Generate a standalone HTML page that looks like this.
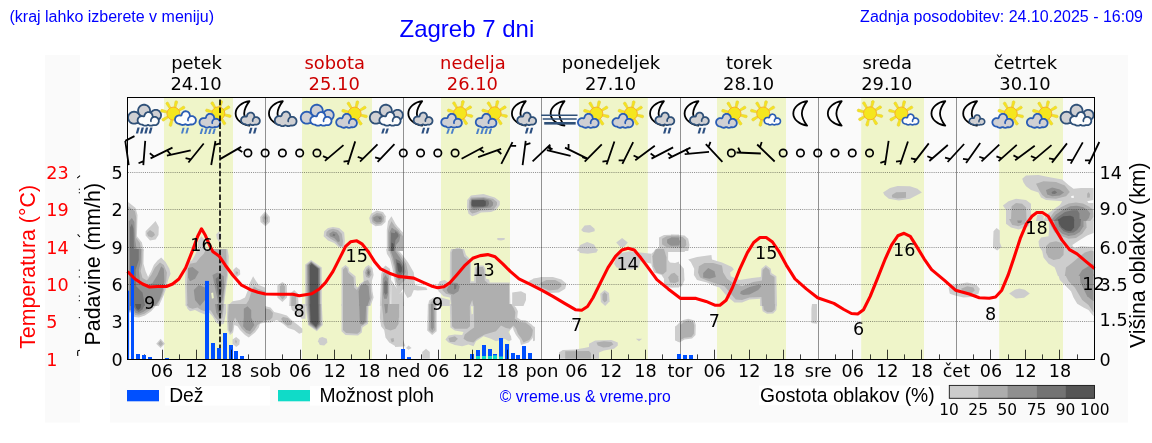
<!DOCTYPE html>
<html lang="sl"><head><meta charset="utf-8"><title>Zagreb 7 dni</title>
<style>
html,body{margin:0;padding:0;background:#fff;}
body{width:1152px;height:443px;overflow:hidden;font-family:"Liberation Sans",Arial,sans-serif;}
svg{display:block;position:absolute;left:0;top:0;}
text{white-space:pre;}
</style></head><body>
<svg width="1152" height="443" viewBox="0 0 1152 443">
<rect x="45" y="55" width="35" height="367.5" fill="#fafafa"/>
<rect x="110" y="55" width="1018" height="367.5" fill="#fafafa"/>
<rect x="164" y="97.5" width="69.0" height="262.0" fill="#eff5c9"/>
<rect x="302" y="97.5" width="70.0" height="262.0" fill="#eff5c9"/>
<rect x="441" y="97.5" width="69.0" height="262.0" fill="#eff5c9"/>
<rect x="579" y="97.5" width="68.8" height="262.0" fill="#eff5c9"/>
<rect x="717" y="97.5" width="69.0" height="262.0" fill="#eff5c9"/>
<rect x="861.2" y="97.5" width="62.8" height="262.0" fill="#eff5c9"/>
<rect x="999.2" y="97.5" width="63.8" height="262.0" fill="#eff5c9"/>
<clipPath id="cp"><rect x="127.5" y="166" width="967.0" height="193.5"/></clipPath>
<g clip-path="url(#cp)">
<path d="M128.1,201.9L135.6,208.1L137.5,215.0L136.9,236.2L141.9,242.5L143.8,251.0L128.1,251.0Z" fill="#cdcdcd"/>
<path d="M155.6,221.0L158.8,226.9L158.5,235.0L155.6,239.4L150.0,240.6L145.6,235.6L145.6,231.2L150.6,226.2Z" fill="#cdcdcd"/>
<path d="M201.2,236.2L205.0,240.0L206.2,251.0L197.5,251.0L198.1,241.2Z" fill="#cdcdcd"/>
<path d="M218.8,231.6L221.2,233.8L221.2,238.1L219.4,241.9L216.9,238.8L216.2,234.4Z" fill="#cdcdcd"/>
<path d="M128.1,249.0L143.8,249.0L143.5,263.8L145.6,271.2L148.1,276.9L151.2,271.2L153.8,265.0L157.5,260.6L161.2,257.5L165.6,261.9L169.4,268.8L170.6,273.8L168.1,280.0L166.5,287.5L163.8,295.0L158.8,306.0L128.1,306.0Z" fill="#cdcdcd"/>
<path d="M197.5,249.0L195.0,255.0L191.9,260.6L187.5,262.5L185.6,268.8L185.0,281.2L185.6,306.0L223.8,306.0L226.2,287.5L228.1,275.0L228.8,256.2L227.5,249.0Z" fill="#cdcdcd"/>
<path d="M236.2,266.9L240.0,270.0L240.2,274.4L236.9,276.9L233.8,274.4L233.1,270.0Z" fill="#cdcdcd"/>
<path d="M253.1,276.2L256.2,281.2L258.8,285.0L265.0,287.5L265.0,306.0L227.5,306.0L232.5,301.2L240.0,300.0L245.0,297.5L247.5,291.2L250.0,282.5Z" fill="#cdcdcd"/>
<path d="M128.1,304.0L157.5,304.0L151.2,311.2L145.0,315.6L138.8,317.5L134.4,316.9L132.5,312.5L128.1,312.5Z" fill="#cdcdcd"/>
<path d="M185.6,304.0L187.5,308.8L190.0,311.2L195.0,310.0L200.0,312.5L205.0,314.4L209.0,312.5L212.5,316.2L216.2,322.5L220.0,325.0L223.8,323.8L226.2,312.5L226.2,304.0Z" fill="#cdcdcd"/>
<path d="M227.5,304.0L226.9,317.5L227.5,330.0L230.0,335.0L233.1,332.5L234.4,325.0L237.5,326.2L240.0,330.0L245.0,335.0L248.8,337.5L255.0,332.5L258.8,327.5L260.0,323.8L265.0,322.5L265.0,304.0Z" fill="#cdcdcd"/>
<path d="M160.6,338.8L165.0,343.8L160.6,348.1L156.2,343.8Z" fill="#cdcdcd"/>
<path d="M232.5,339.4L236.2,336.9L239.8,340.0L239.4,344.4L236.2,346.9L232.5,343.8Z" fill="#cdcdcd"/>
<path d="M265.2,211.2L269.9,216.9L269.9,221.9L265.5,226.2L260.5,221.9L260.2,216.9Z" fill="#cdcdcd"/>
<path d="M333.0,226.9L339.2,228.1L344.2,232.5L344.9,241.2L344.2,247.5L339.2,247.5L334.2,243.1L328.0,240.6L323.6,236.2L324.2,231.2L328.0,228.1Z" fill="#cdcdcd"/>
<path d="M376.8,210.6L383.0,211.9L385.8,216.2L385.5,221.9L381.8,225.6L375.5,226.2L370.5,223.1L369.2,218.1L371.1,213.8Z" fill="#cdcdcd"/>
<path d="M391.5,216.2L395.5,223.8L399.2,228.8L403.0,232.5L403.0,251.0L386.8,251.0L386.8,230.0L388.0,221.2Z" fill="#cdcdcd"/>
<path d="M257.0,286.2L261.1,290.0L263.0,300.0L263.0,306.0L257.0,306.0Z" fill="#cdcdcd"/>
<path d="M282.4,281.9L286.8,285.0L287.0,297.5L282.4,301.9L277.4,297.5L277.4,285.6Z" fill="#cdcdcd"/>
<path d="M294.2,290.0L298.0,293.8L298.6,306.0L289.2,306.0L289.9,293.8Z" fill="#cdcdcd"/>
<path d="M311.1,260.0L321.8,267.5L321.8,306.0L305.2,306.0L305.2,264.4Z" fill="#cdcdcd"/>
<path d="M345.5,265.0L348.6,267.5L349.2,271.2L355.5,276.2L356.1,286.2L358.0,287.5L359.9,283.8L363.6,281.2L363.0,271.2L365.5,266.9L368.6,265.0L372.4,268.1L373.6,275.0L371.8,281.2L372.4,291.2L373.6,297.5L370.5,306.0L341.5,306.0L341.5,268.1Z" fill="#cdcdcd"/>
<path d="M385.5,265.6L389.9,268.8L391.1,275.0L390.5,306.0L379.9,306.0L381.1,275.0L382.4,268.8Z" fill="#cdcdcd"/>
<path d="M257.0,304.0L270.5,307.5L274.2,311.9L281.1,313.8L286.8,315.6L293.0,321.2L298.0,325.0L302.4,328.8L302.4,332.5L299.2,333.8L294.2,330.0L288.0,328.1L283.0,323.8L276.8,320.0L270.5,322.5L263.0,322.5L257.0,323.8Z" fill="#cdcdcd"/>
<path d="M290.5,304.0L305.5,304.0L305.5,318.8L301.8,318.8L295.5,312.5L291.8,310.0Z" fill="#cdcdcd"/>
<path d="M305.2,304.0L321.8,304.0L322.8,325.0L316.8,331.2L308.0,325.0Z" fill="#cdcdcd"/>
<path d="M322.4,336.9L326.8,338.8L327.4,342.5L324.2,345.6L319.9,345.0L318.0,341.2L319.2,338.1Z" fill="#cdcdcd"/>
<path d="M341.5,304.0L368.6,304.0L368.0,323.8L362.4,327.5L361.8,332.5L358.0,335.6L345.5,335.0L341.5,331.2Z" fill="#cdcdcd"/>
<path d="M386.2,249.0L397.5,249.0L402.5,255.0L408.1,262.5L413.8,272.5L415.0,285.0L420.0,286.2L426.2,287.5L427.5,290.0L417.5,290.6L413.8,290.0L411.2,296.2L407.5,298.1L405.0,293.8L403.1,288.8L400.0,293.8L397.5,291.2L395.0,282.5L392.5,268.8L390.0,258.8L386.9,253.8Z" fill="#cdcdcd"/>
<path d="M391.2,280.0L396.2,287.5L400.0,293.8L402.5,291.2L403.8,306.0L391.2,306.0Z" fill="#cdcdcd"/>
<path d="M380.5,304.0L403.0,304.0L403.0,346.2L395.5,346.2L389.2,342.5L385.5,337.5L384.2,330.0L381.1,326.2L379.9,317.5Z" fill="#cdcdcd"/>
<path d="M471.0,195.6L483.5,194.0L494.8,197.5L499.8,201.2L499.8,205.0L496.0,210.0L491.0,211.9L481.0,212.5L476.0,215.0L472.2,216.2L468.5,213.8L467.0,207.5L467.2,200.0Z" fill="#cdcdcd"/>
<path d="M497.2,238.1L504.8,238.1L504.5,239.8L501.0,240.6L497.5,240.0Z" fill="#cdcdcd"/>
<path d="M395.0,225.0L399.8,228.8L402.0,233.8L401.0,238.8L398.5,241.9L397.9,251.0L395.0,251.0Z" fill="#cdcdcd"/>
<path d="M453.5,251.0L456.0,248.1L460.4,248.1L462.9,251.0Z" fill="#cdcdcd"/>
<path d="M451.0,249.0L464.1,249.0L466.0,255.0L471.0,260.0L471.0,281.2L474.1,281.2L474.8,267.5L477.2,265.6L483.5,265.6L485.4,268.8L486.0,278.8L489.1,279.4L489.8,282.5L509.8,282.5L510.4,306.0L451.0,306.0L449.8,297.5L443.5,296.2L438.5,291.2L437.2,286.2L439.8,281.2L444.8,280.0L449.8,283.8L450.0,252.5Z" fill="#cdcdcd"/>
<path d="M512.2,292.5L521.0,291.2L526.0,293.8L526.0,300.0L523.5,306.0L512.2,306.0Z" fill="#cdcdcd"/>
<path d="M528.5,281.2L533.5,278.8L541.0,278.1L541.0,286.2L533.5,286.2L529.8,284.4Z" fill="#cdcdcd"/>
<path d="M427.9,306.0L429.1,300.6L433.5,297.5L441.0,297.5L449.8,300.0L449.8,306.0Z" fill="#cdcdcd"/>
<path d="M395.0,304.0L401.6,304.0L401.6,312.5L399.8,321.2L397.9,326.2L399.8,332.5L403.5,341.2L405.4,346.2L395.0,346.9Z" fill="#cdcdcd"/>
<path d="M406.0,348.1L408.5,345.6L411.6,348.1L408.5,349.8Z" fill="#cdcdcd"/>
<path d="M422.2,351.9L426.0,348.8L429.8,351.9L429.8,358.8L422.2,358.8Z" fill="#cdcdcd"/>
<path d="M427.9,304.0L436.6,304.0L436.6,331.2L432.2,335.0L427.2,330.6Z" fill="#cdcdcd"/>
<path d="M449.8,304.0L512.2,304.0L516.0,307.5L517.9,311.2L517.2,317.5L521.0,320.0L526.0,320.6L532.2,325.0L534.8,328.8L534.1,335.0L532.2,338.8L528.5,342.5L521.0,345.0L519.8,340.0L516.0,335.0L513.5,330.0L512.9,326.9L508.5,331.9L511.0,336.2L511.6,340.0L508.5,341.2L504.8,338.8L496.0,341.2L491.0,338.8L483.5,336.2L476.0,341.2L473.5,346.2L468.5,344.4L462.2,346.2L454.8,345.0L448.5,342.5L445.4,339.4L448.5,335.6L454.8,334.4L462.2,335.0L463.5,331.9L454.8,330.6L450.4,327.5Z" fill="#cdcdcd"/>
<path d="M584.6,225.6L590.2,225.0L594.6,228.8L594.6,231.2L589.0,232.8L583.4,231.9L581.2,230.0Z" fill="#cdcdcd"/>
<path d="M622.1,238.1L627.8,242.5L624.0,246.9L620.2,246.9L616.2,242.5Z" fill="#cdcdcd"/>
<path d="M577.1,251.0L580.2,245.0L587.1,241.9L594.0,244.4L597.8,251.0Z" fill="#cdcdcd"/>
<path d="M659.0,237.5L664.0,235.0L679.0,234.4L679.0,251.0L654.0,251.0L659.0,246.9Z" fill="#cdcdcd"/>
<path d="M577.1,249.0L597.8,249.0L596.5,252.5L587.8,253.8L580.2,253.1Z" fill="#cdcdcd"/>
<path d="M533.0,278.8L541.5,276.9L552.8,276.9L561.5,279.4L566.5,283.8L565.2,288.8L559.0,292.5L549.0,293.1L539.0,290.0L533.0,286.9Z" fill="#cdcdcd"/>
<path d="M614.0,263.8L616.5,257.5L621.5,253.1L629.0,251.2L640.2,252.5L651.5,253.8L651.5,263.8L646.5,262.5L640.2,261.2L639.0,267.5L631.5,269.4L621.5,268.8L616.5,267.5Z" fill="#cdcdcd"/>
<path d="M651.5,253.8L656.5,249.0L679.0,249.0L679.0,287.5L664.0,287.5L664.0,278.8L661.5,275.0L654.0,272.5L651.5,265.0Z" fill="#cdcdcd"/>
<path d="M604.6,290.0L609.0,293.1L609.6,301.2L605.2,306.0L600.9,301.9L600.2,293.8Z" fill="#cdcdcd"/>
<path d="M589.0,343.8L595.2,340.6L611.5,340.0L617.8,342.5L617.8,345.6L614.0,348.8L604.0,350.6L599.0,352.5L599.0,358.8L559.0,358.8L559.0,352.5L562.8,350.0L575.2,349.4L584.0,348.1L589.0,346.9Z" fill="#cdcdcd"/>
<path d="M635.9,338.8L642.1,338.8L639.0,341.2Z" fill="#cdcdcd"/>
<path d="M675.2,326.2L679.0,325.0L679.0,341.9L675.2,340.6Z" fill="#cdcdcd"/>
<path d="M533.0,326.2L535.0,326.9L535.0,340.6L533.0,341.2Z" fill="#cdcdcd"/>
<path d="M671.0,234.4L684.5,235.6L688.2,238.8L689.5,245.0L688.2,251.0L671.0,251.0Z" fill="#cdcdcd"/>
<path d="M671.0,249.0L686.4,249.0L684.5,251.9L671.0,251.9Z" fill="#cdcdcd"/>
<path d="M671.0,261.9L679.5,263.8L683.9,268.8L684.5,280.0L682.0,286.2L671.0,287.5Z" fill="#cdcdcd"/>
<path d="M688.2,259.4L697.0,256.9L711.4,255.0L712.0,259.4L722.0,262.5L732.0,266.9L733.9,269.4L730.1,272.5L730.8,276.2L739.5,280.0L752.0,278.1L760.8,276.9L761.4,268.8L765.8,265.0L770.8,268.8L771.4,273.1L776.4,276.2L777.0,306.0L760.1,306.0L760.1,298.8L749.5,299.4L742.0,302.5L734.5,302.5L727.0,296.2L719.5,287.5L713.2,285.6L707.0,282.5L697.0,280.0L693.9,275.0L694.2,268.8L690.8,261.9Z" fill="#cdcdcd"/>
<path d="M683.2,320.0L688.2,318.8L694.5,320.6L695.8,325.0L695.5,335.0L692.0,338.5L684.5,339.4L679.5,342.5L675.1,340.0L675.1,326.9L679.5,322.5Z" fill="#cdcdcd"/>
<path d="M761.4,304.0L776.8,304.0L776.4,310.0L773.2,313.5L767.0,313.8L762.6,311.2Z" fill="#cdcdcd"/>
<path d="M812.0,304.0L817.0,304.0L817.0,323.8L811.4,323.1L811.4,308.8Z" fill="#cdcdcd"/>
<path d="M883.1,192.5L890.0,188.1L897.5,186.0L910.0,186.2L917.5,188.8L921.9,192.5L916.2,195.6L910.0,198.8L898.8,200.6L888.8,198.8L884.4,195.0Z" fill="#cdcdcd"/>
<path d="M1022.2,178.8L1026.0,175.6L1038.5,175.0L1051.0,177.5L1062.2,179.4L1068.5,185.0L1073.5,188.8L1081.0,188.1L1093.5,188.1L1093.5,221.0L1043.5,221.0L1046.0,215.0L1051.0,211.2L1059.8,205.0L1062.2,201.2L1046.0,200.0L1041.0,197.5L1038.5,192.5L1031.0,190.0L1026.0,186.2L1023.5,182.5Z" fill="#cdcdcd"/>
<path d="M1002.9,205.6L1008.5,201.2L1016.0,198.8L1026.0,200.0L1031.0,203.8L1031.0,221.0L1006.0,221.0L1006.0,210.0Z" fill="#cdcdcd"/>
<path d="M1036.0,221.0L1037.2,215.0L1041.0,213.8L1043.5,216.2L1043.5,221.0Z" fill="#cdcdcd"/>
<path d="M1006.0,219.0L1031.0,219.0L1028.5,226.2L1018.5,229.4L1011.0,227.5L1006.0,223.8Z" fill="#cdcdcd"/>
<path d="M996.6,228.1L999.8,230.6L999.8,242.5L1001.6,246.9L997.2,250.6L992.9,247.5L993.5,231.2Z" fill="#cdcdcd"/>
<path d="M1048.5,219.0L1093.5,219.0L1093.5,233.1L1087.2,235.6L1079.1,240.6L1072.2,245.0L1074.1,248.1L1081.0,246.2L1093.5,246.9L1093.5,276.0L1057.9,276.0L1054.8,267.5L1048.5,263.8L1043.5,257.5L1042.2,251.2L1039.1,246.2L1038.5,241.2L1041.0,237.5L1048.5,236.2L1049.1,230.0Z" fill="#cdcdcd"/>
<path d="M948.5,287.5L955.0,284.4L967.2,282.5L976.0,284.4L979.8,288.8L978.5,293.8L971.0,296.9L963.5,297.5L955.0,295.6L949.8,293.8Z" fill="#cdcdcd"/>
<path d="M1009.1,293.5L1014.8,289.8L1019.1,288.5L1024.8,289.8L1029.8,293.5L1024.1,297.8L1016.0,298.5Z" fill="#cdcdcd"/>
<path d="M1057.9,274.0L1093.5,274.0L1093.5,316.2L1088.5,310.0L1083.5,307.5L1077.2,303.8L1073.5,297.5L1071.0,291.2L1066.0,286.2L1059.8,280.0Z" fill="#cdcdcd"/>
<path d="M128.1,206.2L135.0,211.2L136.2,217.5L136.0,237.5L140.0,243.1L141.2,251.0L128.1,251.0Z" fill="#afafaf"/>
<path d="M150.0,230.0L153.8,232.5L155.0,235.0L151.9,237.5L148.1,236.2L146.9,233.1Z" fill="#afafaf"/>
<path d="M128.1,249.0L142.5,249.0L142.2,263.8L140.6,271.2L142.5,278.1L146.9,280.6L151.2,275.0L155.0,267.5L160.0,262.5L163.8,265.0L166.9,272.5L166.2,281.2L164.4,288.8L161.9,296.2L156.9,306.0L128.1,306.0Z" fill="#afafaf"/>
<path d="M206.2,249.0L203.8,253.8L200.0,257.5L196.2,262.5L190.0,263.8L187.5,270.0L186.9,287.5L187.5,306.0L223.1,306.0L225.0,287.5L226.9,275.0L226.2,249.0Z" fill="#afafaf"/>
<path d="M235.6,271.2L238.1,271.9L237.5,274.4L235.6,274.4Z" fill="#afafaf"/>
<path d="M253.8,286.2L257.5,288.8L265.0,291.2L265.0,306.0L245.0,306.0L248.8,300.0L251.2,292.5Z" fill="#afafaf"/>
<path d="M128.1,304.0L155.6,304.0L150.0,310.0L144.4,313.8L138.8,315.6L135.0,315.0L133.1,311.2L128.1,311.2Z" fill="#afafaf"/>
<path d="M186.9,304.0L188.8,307.5L192.5,308.8L197.5,307.5L201.2,310.0L205.0,311.2L210.0,310.0L211.2,311.2L215.0,317.5L218.8,321.2L222.5,317.5L224.4,304.0Z" fill="#afafaf"/>
<path d="M228.8,304.0L228.1,317.5L228.8,330.0L230.6,333.1L232.5,330.0L233.1,322.5L235.0,317.5L238.8,323.8L241.9,328.8L246.2,333.1L250.0,334.4L254.4,330.0L257.5,325.0L265.0,320.0L265.0,304.0Z" fill="#afafaf"/>
<path d="M160.6,340.6L163.1,343.8L160.6,346.2L158.1,343.8Z" fill="#afafaf"/>
<path d="M235.6,339.4L236.9,341.2L236.2,343.8L235.2,341.9Z" fill="#afafaf"/>
<path d="M265.2,213.1L268.0,217.5L267.8,221.2L265.5,224.4L262.8,221.2L262.4,217.5Z" fill="#afafaf"/>
<path d="M333.0,228.8L338.0,230.0L341.8,233.8L343.0,241.2L342.4,246.2L339.9,246.2L336.1,241.9L330.5,238.8L326.1,235.6L326.5,231.9L329.2,229.8Z" fill="#afafaf"/>
<path d="M376.8,213.1L381.8,213.8L384.0,216.9L383.6,221.2L380.5,224.0L376.1,224.4L372.4,221.9L371.5,218.1L373.0,215.2Z" fill="#afafaf"/>
<path d="M391.5,221.2L394.9,226.2L398.6,230.6L403.0,236.2L403.0,251.0L388.0,251.0L388.0,231.2L389.2,226.2Z" fill="#afafaf"/>
<path d="M257.0,290.0L260.5,293.8L261.1,306.0L257.0,306.0Z" fill="#afafaf"/>
<path d="M282.4,284.4L284.9,286.2L284.9,296.9L282.4,299.4L279.9,296.2L279.9,286.2Z" fill="#afafaf"/>
<path d="M294.2,292.5L296.1,295.0L296.1,306.0L291.1,306.0L291.5,295.6Z" fill="#afafaf"/>
<path d="M311.1,261.2L320.5,268.1L320.5,306.0L306.5,306.0L306.5,265.0Z" fill="#afafaf"/>
<path d="M345.5,266.9L347.4,268.8L348.0,272.5L353.6,277.5L354.2,287.5L356.8,290.0L359.2,286.2L363.0,283.1L364.2,281.2L368.0,280.0L370.5,285.0L371.1,292.5L371.8,297.5L369.2,306.0L343.0,306.0L343.0,269.4Z" fill="#afafaf"/>
<path d="M368.6,266.9L371.1,270.0L371.5,275.0L369.2,278.1L366.1,276.9L364.9,272.5L366.5,268.8Z" fill="#afafaf"/>
<path d="M385.5,271.2L388.6,273.8L389.2,281.2L389.2,306.0L381.8,306.0L382.4,281.2L383.0,273.8Z" fill="#afafaf"/>
<path d="M257.0,306.2L269.9,309.4L273.0,313.1L272.4,317.5L269.9,320.0L263.0,320.6L257.0,321.2Z" fill="#afafaf"/>
<path d="M283.0,316.9L288.0,318.1L292.4,322.5L291.1,325.0L287.4,325.6L283.0,321.9L281.1,318.8Z" fill="#afafaf"/>
<path d="M306.5,304.0L321.1,304.0L321.5,325.0L316.8,330.0L308.6,324.4Z" fill="#afafaf"/>
<path d="M343.0,304.0L367.4,304.0L366.8,322.5L361.1,326.2L360.5,331.2L357.4,333.8L346.1,333.1L343.0,330.0Z" fill="#afafaf"/>
<path d="M388.8,249.0L395.6,249.0L401.2,256.2L406.2,263.8L408.1,272.5L407.5,277.5L402.5,282.5L398.8,286.2L396.2,281.2L394.4,268.8L391.9,258.8Z" fill="#afafaf"/>
<path d="M381.8,304.0L399.2,304.0L398.6,323.8L395.5,328.8L390.5,330.6L385.5,328.8L383.6,323.8L383.0,315.0Z" fill="#afafaf"/>
<path d="M390.5,338.8L393.6,338.1L394.2,341.2L391.8,342.5Z" fill="#afafaf"/>
<path d="M471.0,197.5L483.5,196.9L492.9,198.8L497.0,201.9L497.0,205.0L494.1,208.8L489.8,210.0L481.0,210.6L476.0,212.5L472.2,213.5L469.8,211.2L468.8,206.9L469.1,200.6Z" fill="#afafaf"/>
<path d="M395.0,227.5L399.1,230.6L400.4,234.4L399.5,238.1L395.0,240.6Z" fill="#afafaf"/>
<path d="M452.9,249.0L462.2,249.0L464.1,256.2L469.8,261.2L470.0,283.1L476.0,283.1L476.0,268.8L478.5,266.9L482.9,266.9L484.1,270.0L484.8,280.6L488.5,283.8L509.1,283.8L509.1,306.0L473.5,306.0L472.2,300.0L469.8,306.0L451.6,306.0L451.0,295.0L446.0,293.8L442.2,290.0L444.8,286.2L449.8,286.2L451.6,283.8L451.6,252.5Z" fill="#afafaf"/>
<path d="M429.8,306.0L431.0,301.9L433.5,300.0L436.0,301.2L436.0,306.0Z" fill="#afafaf"/>
<path d="M395.0,307.5L399.1,310.0L399.1,317.5L395.0,318.8Z" fill="#afafaf"/>
<path d="M429.1,304.0L435.4,304.0L435.4,330.0L432.2,333.1L428.8,330.0Z" fill="#afafaf"/>
<path d="M451.6,304.0L469.8,304.0L470.0,326.2L467.2,328.8L454.8,328.8L452.0,326.2Z" fill="#afafaf"/>
<path d="M474.1,304.0L511.0,304.0L514.1,308.8L515.4,312.5L514.8,318.8L519.8,321.9L525.4,322.5L530.4,326.2L532.9,330.0L532.2,335.0L529.8,339.4L523.5,342.5L521.6,338.8L517.9,333.8L516.0,328.8L513.5,325.6L509.8,328.8L506.0,328.1L501.0,325.6L496.0,331.2L484.8,334.4L477.2,338.8L473.5,342.5L467.2,341.2L463.5,338.8L464.8,334.4L469.8,330.6L474.1,327.5Z" fill="#afafaf"/>
<path d="M448.5,338.1L454.8,336.2L457.9,338.8L454.8,341.9L449.8,341.9Z" fill="#afafaf"/>
<path d="M662.1,238.8L666.5,236.2L679.0,235.6L679.0,247.5L666.5,246.9L662.1,244.4Z" fill="#afafaf"/>
<path d="M540.2,283.1L546.5,280.0L555.2,280.0L560.9,283.1L561.5,286.2L557.8,289.4L549.0,290.6L542.8,288.1Z" fill="#afafaf"/>
<path d="M655.9,249.0L664.0,249.0L666.5,257.5L666.5,271.2L662.8,274.4L656.5,272.5L653.4,266.2L652.5,256.2Z" fill="#afafaf"/>
<path d="M604.6,291.9L607.1,294.4L607.1,300.6L604.6,302.5L602.5,300.0L602.5,294.4Z" fill="#afafaf"/>
<path d="M596.5,342.5L604.0,341.2L611.5,341.9L613.4,344.4L609.0,346.9L603.4,347.5L597.8,345.6Z" fill="#afafaf"/>
<path d="M565.2,351.2L589.0,351.0L590.9,353.1L590.9,358.8L565.2,358.8Z" fill="#afafaf"/>
<path d="M671.0,235.6L682.6,236.9L685.8,240.0L686.4,245.0L684.5,247.5L671.0,247.5Z" fill="#afafaf"/>
<path d="M698.9,266.2L704.5,263.1L713.2,263.1L722.0,265.6L723.2,272.5L727.0,278.8L734.5,283.8L742.0,286.2L753.2,281.9L762.0,280.6L762.6,270.0L765.8,266.9L769.5,270.0L770.1,274.4L774.5,276.9L774.8,306.0L762.0,306.0L761.4,296.9L749.5,297.5L742.0,300.0L735.8,299.4L730.8,293.8L724.5,286.2L714.5,283.1L707.0,280.6L700.1,277.5L698.0,272.5Z" fill="#afafaf"/>
<path d="M683.9,321.9L688.2,320.6L693.2,321.9L694.2,325.6L693.9,333.8L691.4,336.9L684.5,337.8L680.5,340.0L680.5,325.0Z" fill="#afafaf"/>
<path d="M763.0,304.0L775.1,304.0L774.8,309.4L772.0,311.9L767.6,312.2L763.9,310.0Z" fill="#afafaf"/>
<path d="M668.1,277.5L671.2,273.8L674.4,272.8L678.1,276.2L678.8,281.2L675.0,283.1L670.0,282.5Z" fill="#afafaf"/>
<path d="M891.9,195.0L896.2,192.2L906.0,191.9L906.0,197.8L897.5,198.5L892.2,197.5Z" fill="#afafaf"/>
<path d="M1036.0,183.8L1043.5,181.2L1056.0,181.9L1064.8,185.6L1069.8,191.9L1066.0,196.2L1056.0,198.8L1046.0,198.1L1042.2,195.0L1039.1,190.0Z" fill="#afafaf"/>
<path d="M1087.2,193.8L1088.8,191.9L1090.0,194.4L1089.8,197.5L1087.2,197.8Z" fill="#afafaf"/>
<path d="M1011.6,206.2L1016.0,203.1L1022.2,203.8L1026.0,207.5L1026.6,221.0L1011.0,221.0Z" fill="#afafaf"/>
<path d="M1009.1,219.0L1026.0,219.0L1024.8,223.8L1018.5,226.2L1012.2,225.0Z" fill="#afafaf"/>
<path d="M1049.1,219.0L1086.0,219.0L1086.6,227.5L1082.2,233.8L1076.0,238.1L1068.5,238.8L1062.2,236.2L1054.8,232.5L1051.0,226.2Z" fill="#afafaf"/>
<path d="M1046.0,246.2L1049.8,242.5L1056.0,241.2L1062.2,243.1L1063.8,247.5L1063.5,255.0L1059.8,258.8L1053.5,260.0L1048.5,257.5L1046.0,252.5Z" fill="#afafaf"/>
<path d="M1064.8,276.0L1066.0,267.5L1071.0,263.8L1078.5,257.5L1084.8,252.5L1091.0,250.6L1093.5,251.2L1093.5,276.0Z" fill="#afafaf"/>
<path d="M961.0,288.8L967.2,286.2L973.5,287.5L974.8,290.6L971.0,293.8L963.5,293.1Z" fill="#afafaf"/>
<path d="M1064.8,274.0L1093.5,274.0L1093.5,312.5L1088.5,305.0L1082.2,300.0L1078.5,293.8L1074.8,287.5L1068.5,281.2Z" fill="#afafaf"/>
<path d="M1047.8,221.1L1054.2,211.7L1061.4,207.1L1068.6,203.5L1075.8,202.6L1083.0,203.5L1088.4,206.2L1093.0,209.4L1093.4,217.1L1090.3,221.1Z" fill="#afafaf"/>
<path d="M128.8,221.2L131.9,218.1L134.4,221.9L135.0,238.8L136.9,251.0L128.8,251.0Z" fill="#919191"/>
<path d="M128.8,249.0L141.2,249.0L140.6,262.5L138.8,270.0L140.0,281.2L145.0,286.2L152.5,283.1L157.5,275.0L161.2,266.2L163.8,268.8L164.4,281.2L162.5,291.2L159.4,300.0L155.0,306.0L128.8,306.0Z" fill="#919191"/>
<path d="M188.1,268.1L192.5,266.9L198.8,271.9L195.0,278.8L190.0,281.2L188.1,277.5Z" fill="#919191"/>
<path d="M193.8,290.0L198.8,285.0L205.0,287.5L205.0,300.0L200.0,306.0L195.0,300.0Z" fill="#919191"/>
<path d="M212.5,275.0L217.5,272.5L223.8,276.2L224.4,287.5L222.5,300.0L218.8,306.0L215.0,287.5Z" fill="#919191"/>
<path d="M128.8,304.0L153.1,304.0L148.1,308.8L143.1,311.9L138.8,313.8L135.6,313.1L133.8,310.0L128.8,310.0Z" fill="#919191"/>
<path d="M215.0,304.0L216.2,312.5L218.8,317.5L221.9,313.8L223.1,304.0Z" fill="#919191"/>
<path d="M243.8,308.8L247.5,306.2L251.2,310.0L251.2,317.5L254.4,325.0L250.0,331.2L246.2,330.0L243.1,326.2L243.8,317.5Z" fill="#919191"/>
<path d="M265.2,215.6L266.5,218.1L265.5,220.6L264.2,218.1Z" fill="#919191"/>
<path d="M333.0,231.2L336.8,232.5L339.2,236.2L339.9,241.2L338.0,241.9L334.2,238.1L329.9,236.2L329.2,233.8Z" fill="#919191"/>
<path d="M376.8,215.6L381.1,216.0L382.4,218.8L381.1,221.9L376.8,222.5L373.6,220.6L373.2,217.5Z" fill="#919191"/>
<path d="M391.8,227.5L396.8,231.2L400.5,235.0L399.2,241.2L396.1,245.0L395.5,251.0L389.2,251.0L389.5,232.5Z" fill="#919191"/>
<path d="M311.1,261.9L319.9,268.8L319.9,306.0L308.0,306.0L307.4,265.6Z" fill="#919191"/>
<path d="M360.5,285.6L365.5,283.8L368.6,286.2L369.2,293.8L369.9,298.8L367.4,306.0L359.2,306.0L358.6,291.2Z" fill="#919191"/>
<path d="M368.6,268.8L370.2,271.2L369.9,275.0L368.0,276.2L366.5,273.8L367.0,270.2Z" fill="#919191"/>
<path d="M385.5,275.0L388.0,278.8L388.2,293.8L386.8,298.8L384.2,298.8L383.0,293.8L383.2,278.8Z" fill="#919191"/>
<path d="M307.8,304.0L320.2,304.0L320.5,324.4L316.5,329.0L309.5,323.8Z" fill="#919191"/>
<path d="M359.2,304.0L366.1,304.0L365.5,321.2L363.0,324.4L359.9,323.8Z" fill="#919191"/>
<path d="M390.0,249.0L393.8,249.0L399.4,256.9L404.4,264.4L405.6,271.9L403.1,276.9L398.8,280.6L396.2,276.2L395.0,266.2L393.1,257.5Z" fill="#919191"/>
<path d="M384.2,304.0L388.0,304.0L387.4,312.5L385.5,313.8Z" fill="#919191"/>
<path d="M471.6,198.8L483.5,198.1L491.0,200.0L493.2,202.5L492.9,205.6L490.4,207.5L481.0,208.5L473.5,209.8L471.0,208.1L470.4,202.5Z" fill="#919191"/>
<path d="M395.0,229.4L398.2,231.9L399.1,234.8L397.9,237.5L395.0,238.8Z" fill="#919191"/>
<path d="M448.5,286.2L452.2,282.5L457.2,283.1L459.8,286.2L458.5,291.2L453.5,294.4L448.5,293.1L446.6,290.0Z" fill="#919191"/>
<path d="M431.0,304.0L433.5,304.0L433.8,327.5L432.2,330.6L430.8,327.5Z" fill="#919191"/>
<path d="M667.1,239.4L671.5,237.5L679.0,237.5L679.0,245.6L670.2,245.6L667.1,243.1Z" fill="#919191"/>
<path d="M671.0,237.5L678.2,238.1L680.1,241.2L679.5,245.0L671.0,245.6Z" fill="#919191"/>
<path d="M703.2,273.1L708.2,268.1L714.5,271.2L715.8,276.9L709.5,278.8L703.2,277.5Z" fill="#919191"/>
<path d="M740.8,291.2L749.5,286.9L759.5,284.4L761.4,286.2L758.2,290.0L749.5,294.4L743.2,295.0L740.1,293.8Z" fill="#919191"/>
<path d="M1046.0,190.0L1052.2,187.5L1059.8,189.4L1064.1,192.5L1059.8,195.6L1052.2,196.2L1047.2,194.4Z" fill="#919191"/>
<path d="M1017.2,220.6L1022.2,220.6L1021.0,223.1L1017.9,223.1Z" fill="#919191"/>
<path d="M1053.5,219.0L1083.5,219.0L1083.5,226.2L1079.8,231.9L1074.8,235.0L1068.5,236.0L1062.2,233.8L1056.6,228.8L1054.8,223.8Z" fill="#919191"/>
<path d="M1078.5,276.0L1082.2,270.0L1088.5,266.2L1093.5,263.8L1093.5,276.0Z" fill="#919191"/>
<path d="M1079.8,274.0L1093.5,274.0L1093.5,301.2L1087.2,296.2L1083.5,288.8L1080.4,282.5Z" fill="#919191"/>
<path d="M1050.5,221.1L1056.0,214.4L1063.2,209.4L1070.4,206.2L1076.7,205.8L1083.0,207.1L1087.5,209.9L1090.3,213.5L1088.9,218.0L1086.2,221.1Z" fill="#919191"/>
<path d="M130.0,227.5L131.9,223.8L133.5,228.8L134.0,251.0L130.0,251.0Z" fill="#757575"/>
<path d="M130.0,249.0L138.8,249.0L138.8,260.0L135.6,270.0L136.2,286.2L142.5,292.5L145.0,306.0L130.0,306.0Z" fill="#757575"/>
<path d="M215.6,278.8L218.8,276.2L221.9,280.0L221.9,290.0L219.4,300.0L217.5,291.2Z" fill="#757575"/>
<path d="M130.0,304.0L145.0,304.0L142.5,309.4L138.8,311.9L136.2,310.6L134.4,307.5Z" fill="#757575"/>
<path d="M216.9,304.0L218.1,311.2L220.0,312.5L221.0,304.0Z" fill="#757575"/>
<path d="M333.6,233.8L335.5,234.8L334.2,236.2L332.4,235.2Z" fill="#757575"/>
<path d="M378.0,217.2L381.1,217.8L379.9,219.4Z" fill="#757575"/>
<path d="M391.1,232.5L398.0,233.8L398.6,236.2L395.5,240.0L394.2,251.0L390.5,251.0Z" fill="#757575"/>
<path d="M311.1,262.5L319.2,268.8L319.2,306.0L309.2,306.0L308.6,265.0Z" fill="#757575"/>
<path d="M368.6,270.6L369.5,272.5L368.6,274.4L367.5,272.8Z" fill="#757575"/>
<path d="M385.8,280.0L387.4,282.5L387.4,292.5L385.8,295.0L384.2,292.5L384.2,282.5Z" fill="#757575"/>
<path d="M309.0,304.0L319.2,304.0L319.5,323.8L316.2,328.1L310.2,323.1Z" fill="#757575"/>
<path d="M395.6,258.8L400.0,261.2L403.1,266.2L403.8,271.2L401.2,275.0L398.1,276.9L396.5,272.5L396.0,263.8Z" fill="#757575"/>
<path d="M471.6,199.8L483.5,199.4L488.5,200.6L489.1,203.8L487.9,206.2L483.5,207.2L473.5,207.8L471.2,206.2L471.0,201.9Z" fill="#757575"/>
<path d="M395.0,231.2L397.5,233.1L397.2,236.2L395.0,236.9Z" fill="#757575"/>
<path d="M454.1,284.4L456.6,285.0L456.0,288.8L454.1,289.4Z" fill="#757575"/>
<path d="M1051.6,191.9L1054.8,190.6L1057.2,192.5L1054.8,194.0L1052.0,193.8Z" fill="#757575"/>
<path d="M1057.2,219.0L1081.0,219.0L1080.4,225.6L1077.2,230.0L1073.5,232.5L1068.5,233.1L1063.5,231.2L1059.1,226.2Z" fill="#757575"/>
<path d="M1053.7,221.1L1057.8,217.1L1065.0,212.1L1072.2,210.3L1077.6,210.3L1079.4,213.5L1079.6,221.1Z" fill="#757575"/>
<path d="M135.0,304.0L141.2,304.0L140.6,308.1L138.1,310.0L136.2,308.1Z" fill="#575757"/>
<path d="M391.5,242.5L393.6,243.8L393.6,251.0L391.1,251.0Z" fill="#575757"/>
<path d="M311.8,263.8L318.0,268.8L318.0,306.0L310.2,306.0L309.9,265.6Z" fill="#575757"/>
<path d="M309.9,304.0L318.2,304.0L318.5,322.5L316.0,326.9L310.8,321.9Z" fill="#575757"/>
<path d="M396.9,262.5L400.0,263.8L401.9,267.5L401.9,271.2L400.0,273.1L398.1,271.2Z" fill="#575757"/>
<path d="M472.0,200.2L483.5,200.0L485.8,201.2L485.8,205.6L483.5,206.5L472.9,206.5L471.6,205.0Z" fill="#575757"/>
<path d="M1058.5,219.0L1074.1,219.0L1074.1,227.5L1071.0,231.2L1066.0,230.6L1061.6,227.5L1059.1,223.8Z" fill="#575757"/>
<path d="M1057.8,221.1L1058.7,219.3L1063.2,216.2L1070.4,215.7L1073.6,217.1L1074.2,221.1Z" fill="#575757"/>
<path d="M211.2,293.1L213.1,292.5L213.8,298.1L211.9,298.8Z" fill="#eff5c9"/>
<path d="M471.0,306.2L472.9,306.2L472.9,313.8L471.6,314.4Z" fill="#eff5c9"/>
<path d="M668.1,251.9L680.0,251.9L680.0,261.2L675.0,263.1L670.0,262.5L668.1,260.0Z" fill="#fafafa"/>
<path d="M1071.0,196.2L1073.5,195.6L1074.1,197.8L1071.6,198.1Z" fill="#fafafa"/>
<path d="M1087.2,201.2L1093.5,200.0L1093.5,203.1L1088.5,203.1Z" fill="#fafafa"/>
</g>
<line x1="128.0" x2="1094.5" y1="172.5" y2="172.5" stroke="#000" stroke-opacity="0.42" stroke-width="1" stroke-dasharray="1.04,1.08"/>
<line x1="128.0" x2="1094.5" y1="209.5" y2="209.5" stroke="#000" stroke-opacity="0.42" stroke-width="1" stroke-dasharray="1.04,1.08"/>
<line x1="128.0" x2="1094.5" y1="247.5" y2="247.5" stroke="#000" stroke-opacity="0.42" stroke-width="1" stroke-dasharray="1.04,1.08"/>
<line x1="128.0" x2="1094.5" y1="284.5" y2="284.5" stroke="#000" stroke-opacity="0.42" stroke-width="1" stroke-dasharray="1.04,1.08"/>
<line x1="128.0" x2="1094.5" y1="321.5" y2="321.5" stroke="#000" stroke-opacity="0.42" stroke-width="1" stroke-dasharray="1.04,1.08"/>
<line x1="265.50" x2="265.50" y1="97.5" y2="359.5" stroke="#000" stroke-opacity="0.42" stroke-width="1"/>
<line x1="403.50" x2="403.50" y1="97.5" y2="359.5" stroke="#000" stroke-opacity="0.42" stroke-width="1"/>
<line x1="541.50" x2="541.50" y1="97.5" y2="359.5" stroke="#000" stroke-opacity="0.42" stroke-width="1"/>
<line x1="680.50" x2="680.50" y1="97.5" y2="359.5" stroke="#000" stroke-opacity="0.42" stroke-width="1"/>
<line x1="818.50" x2="818.50" y1="97.5" y2="359.5" stroke="#000" stroke-opacity="0.42" stroke-width="1"/>
<line x1="956.50" x2="956.50" y1="97.5" y2="359.5" stroke="#000" stroke-opacity="0.42" stroke-width="1"/>
<g><path d="M139.20,114.60L138.31,113.46L137.40,112.71L136.36,112.16L135.24,111.82L134.07,111.70L132.90,111.82L131.77,112.16L130.73,112.71L129.83,113.46L129.08,114.37L128.52,115.40L128.18,116.53L128.07,117.70L128.18,118.87L128.52,120.00L129.08,121.03L129.83,121.94L130.42,122.46L131.07,122.90L132.14,123.38L133.28,123.65L134.07,123.70L135.24,123.58L136.69,123.10L137.37,123.06L138.25,122.86L139.32,122.32L140.23,121.53L140.89,120.53L141.28,119.40L141.36,118.20L141.21,117.31L140.75,116.20L140.23,115.47Z" fill="#d0d0d3" stroke="#2f5078" stroke-width="1.80" stroke-linejoin="round"/><path d="M161.06,114.75L160.89,113.73L160.36,112.45L159.75,111.61L158.71,110.69L157.80,110.20L156.80,109.90L155.42,109.81L154.40,109.98L153.42,110.35L152.82,110.69L152.02,111.35L151.41,112.08L150.51,112.43L149.93,112.76L149.41,113.17L148.72,113.90L148.06,115.05L147.77,116.01L147.68,117.33L147.84,118.32L148.19,119.26L148.72,120.10L149.41,120.83L150.22,121.42L151.13,121.83L152.10,122.06L153.10,122.09L154.09,121.93L155.02,121.57L155.60,121.24L156.63,120.33L157.47,120.12L158.42,119.69L159.52,118.85L160.17,118.04L160.79,116.80L161.02,115.79Z" fill="#d0d0d3" stroke="#2f5078" stroke-width="1.80" stroke-linejoin="round"/><path d="M150.06,110.31L149.86,109.15L149.45,108.05L148.83,107.05L148.02,106.19L147.07,105.50L146.00,105.02L144.85,104.75L143.68,104.71L142.51,104.90L141.41,105.32L140.42,105.94L139.56,106.74L138.87,107.70L138.39,108.77L138.12,109.92L138.08,111.09L138.27,112.25L138.52,113.00L138.87,113.70L139.31,114.35L139.83,114.94L140.84,115.76L141.28,116.80L141.81,117.53L142.47,118.15L143.51,118.75L144.67,119.06L145.57,119.09L146.75,118.86L147.82,118.32L148.73,117.53L149.39,116.53L149.71,115.69L149.83,115.10L149.83,113.90L149.61,112.99L149.86,112.25L150.02,111.48Z" fill="#d0d0d3" stroke="#2f5078" stroke-width="1.80" stroke-linejoin="round"/><path d="M141.98,124.55L142.51,124.67L143.20,125.15L143.72,125.41L144.47,125.64L145.05,125.71L145.60,125.71L146.37,125.58L146.92,125.40L147.72,124.98L148.09,124.91L148.45,124.98L149.25,125.40L149.76,125.57L150.81,125.72L151.90,125.57L153.20,125.07L154.64,125.23L155.76,125.09L156.52,124.79L157.22,124.36L157.82,123.79L158.29,123.12L158.63,122.37L158.81,121.57L158.84,120.75L158.70,119.94L158.41,119.17L157.97,118.48L157.41,117.88L156.74,117.41L156.02,117.08L155.46,116.93L154.64,116.85L153.43,116.95L152.90,116.69L152.60,116.17L152.44,115.10L152.04,114.14L151.56,113.46L150.78,112.78L150.04,112.39L149.04,112.12L148.21,112.09L147.42,112.23L146.70,112.50L146.24,112.76L145.41,113.49L144.82,114.38L144.55,115.10L144.40,115.77L144.06,116.23L143.72,116.40L143.34,116.43L142.36,116.21L141.51,116.18L140.73,116.31L140.21,116.48L139.48,116.87L138.85,117.39L138.32,118.02L137.93,118.74L137.65,119.80L137.64,120.89L137.92,121.95L138.32,122.70L139.05,123.52L139.93,124.11L140.97,124.47Z" fill="#fdfdfd" stroke="#2f5078" stroke-width="1.80" stroke-linejoin="round"/><path d="M153.09,117.16L152.35,117.63L151.74,118.23L151.28,118.94L150.99,119.71L150.86,120.51L150.90,121.31" fill="none" stroke="#2f5078" stroke-width="1.71" stroke-linecap="round" stroke-linejoin="round"/><path d="M137.42,127.6L139.72,127.6L138.12,133.6L135.82,133.6Z" fill="#2c4f80"/><path d="M141.62,127.6L143.92,127.6L142.32,133.6L140.02,133.6Z" fill="#2c4f80"/><path d="M145.92,127.6L148.22,127.6L146.62,133.6L144.32,133.6Z" fill="#2c4f80"/><path d="M150.22,127.6L152.52,127.6L150.92,133.6L148.62,133.6Z" fill="#2c4f80"/></g>
<g><path d="M178.11,109.78L183.17,106.16L184.19,106.30L184.91,107.50L184.56,108.47L178.98,111.24Z" fill="#f5e61e" stroke="#e6cf3a" stroke-width="0.7" stroke-linejoin="round"/><path d="M179.43,114.23L185.57,115.24L186.19,116.07L185.85,117.42L184.91,117.86L179.02,115.88Z" fill="#f5e61e" stroke="#e6cf3a" stroke-width="0.7" stroke-linejoin="round"/><path d="M177.22,118.31L180.84,123.36L180.70,124.38L179.50,125.10L178.53,124.75L175.77,119.18Z" fill="#f5e61e" stroke="#e6cf3a" stroke-width="0.7" stroke-linejoin="round"/><path d="M172.78,119.63L171.76,125.76L170.94,126.38L169.58,126.04L169.14,125.11L171.13,119.22Z" fill="#f5e61e" stroke="#e6cf3a" stroke-width="0.7" stroke-linejoin="round"/><path d="M168.70,117.42L163.64,121.04L162.62,120.90L161.90,119.70L162.25,118.73L167.82,115.96Z" fill="#f5e61e" stroke="#e6cf3a" stroke-width="0.7" stroke-linejoin="round"/><path d="M167.38,112.97L161.24,111.96L160.62,111.13L160.96,109.78L161.89,109.34L167.79,111.32Z" fill="#f5e61e" stroke="#e6cf3a" stroke-width="0.7" stroke-linejoin="round"/><path d="M169.58,108.89L165.96,103.84L166.11,102.82L167.31,102.10L168.28,102.45L171.04,108.02Z" fill="#f5e61e" stroke="#e6cf3a" stroke-width="0.7" stroke-linejoin="round"/><path d="M174.03,107.57L175.05,101.44L175.87,100.82L177.23,101.16L177.66,102.09L175.68,107.98Z" fill="#f5e61e" stroke="#e6cf3a" stroke-width="0.7" stroke-linejoin="round"/><circle cx="173.40" cy="113.60" r="6.5" fill="#f5e61e" stroke="#f7a928" stroke-width="0.9"/><path d="M178.36,123.71L179.78,123.91L180.50,124.42L181.02,124.68L181.78,124.91L182.35,124.98L182.90,124.98L183.68,124.85L184.95,124.30L185.32,124.23L185.69,124.30L186.92,124.84L187.98,124.99L189.07,124.84L190.35,124.35L191.74,124.49L192.83,124.34L193.59,124.05L194.29,123.61L194.89,123.05L195.36,122.38L195.70,121.63L195.88,120.83L195.90,120.01L195.77,119.20L195.47,118.43L195.04,117.74L194.47,117.14L193.83,116.68L193.31,116.42L192.56,116.19L191.74,116.11L190.60,116.17L190.10,115.90L189.83,115.40L189.67,114.26L189.38,113.48L188.78,112.59L188.00,111.91L187.27,111.52L186.27,111.25L185.47,111.22L184.64,111.36L183.93,111.63L183.46,111.89L182.63,112.62L182.05,113.51L181.77,114.23L181.63,114.93L181.29,115.40L180.75,115.62L179.72,115.44L178.90,115.42L178.12,115.55L177.57,115.74L176.88,116.11L176.24,116.63L175.72,117.26L175.33,117.98L175.04,119.04L175.01,119.89L175.23,120.96L175.72,121.94L176.44,122.76L177.33,123.35Z" fill="#fdfdfd" stroke="#2a5db5" stroke-width="1.80" stroke-linejoin="round"/><path d="M190.16,116.42L189.42,116.89L188.81,117.49L188.35,118.19L188.06,118.97L187.93,119.77L187.98,120.56" fill="none" stroke="#2a5db5" stroke-width="1.71" stroke-linecap="round" stroke-linejoin="round"/><path d="M182.60,127.8L184.60,127.8L183.00,133.4L181.00,133.4Z" fill="#4a7fc9"/><path d="M187.00,127.8L189.00,127.8L187.40,133.4L185.40,133.4Z" fill="#4a7fc9"/></g>
<g><path d="M223.04,109.48L228.10,105.86L229.12,106.00L229.84,107.20L229.49,108.17L223.92,110.94Z" fill="#f5e61e" stroke="#e6cf3a" stroke-width="0.7" stroke-linejoin="round"/><path d="M224.37,113.93L230.50,114.94L231.12,115.77L230.78,117.12L229.85,117.56L223.96,115.58Z" fill="#f5e61e" stroke="#e6cf3a" stroke-width="0.7" stroke-linejoin="round"/><path d="M222.16,118.01L225.78,123.06L225.63,124.08L224.43,124.80L223.47,124.45L220.70,118.88Z" fill="#f5e61e" stroke="#e6cf3a" stroke-width="0.7" stroke-linejoin="round"/><path d="M217.71,119.33L216.70,125.46L215.87,126.08L214.52,125.74L214.08,124.81L216.06,118.92Z" fill="#f5e61e" stroke="#e6cf3a" stroke-width="0.7" stroke-linejoin="round"/><path d="M213.63,117.12L208.58,120.74L207.56,120.60L206.84,119.40L207.19,118.43L212.76,115.66Z" fill="#f5e61e" stroke="#e6cf3a" stroke-width="0.7" stroke-linejoin="round"/><path d="M212.31,112.67L206.18,111.66L205.56,110.83L205.89,109.48L206.83,109.04L212.72,111.02Z" fill="#f5e61e" stroke="#e6cf3a" stroke-width="0.7" stroke-linejoin="round"/><path d="M214.52,108.59L210.90,103.54L211.04,102.52L212.24,101.80L213.21,102.15L215.98,107.72Z" fill="#f5e61e" stroke="#e6cf3a" stroke-width="0.7" stroke-linejoin="round"/><path d="M218.97,107.27L219.98,101.14L220.81,100.52L222.16,100.86L222.60,101.79L220.62,107.68Z" fill="#f5e61e" stroke="#e6cf3a" stroke-width="0.7" stroke-linejoin="round"/><circle cx="218.34" cy="113.30" r="6.5" fill="#f5e61e" stroke="#f7a928" stroke-width="0.9"/><path d="M203.66,126.40L204.16,126.53L204.89,127.04L205.41,127.30L206.16,127.53L206.74,127.60L207.52,127.58L208.06,127.47L209.29,126.95L209.65,126.88L210.02,126.95L211.21,127.47L212.27,127.61L213.36,127.47L214.63,126.97L215.97,127.11L217.05,126.96L217.81,126.67L218.51,126.23L219.10,125.67L219.58,125.00L219.91,124.26L220.09,123.46L220.12,122.64L219.98,121.83L219.69,121.07L219.25,120.37L218.69,119.78L218.05,119.32L217.53,119.06L216.78,118.84L215.97,118.75L214.92,118.79L214.42,118.52L214.15,118.03L214.04,117.05L213.71,116.08L213.27,115.37L212.51,114.62L211.62,114.11L210.83,113.86L209.80,113.80L208.98,113.93L208.26,114.20L207.77,114.48L207.35,114.81L206.82,115.37L206.29,116.29L205.96,117.53L205.64,118.00L205.12,118.22L203.92,118.05L203.11,118.08L202.02,118.37L201.33,118.74L200.69,119.25L200.17,119.89L199.78,120.61L199.53,121.42L199.47,122.51L199.68,123.58L200.17,124.55L200.87,125.35L201.77,125.96L202.80,126.31Z" fill="#d0d0d3" stroke="#2a5db5" stroke-width="1.80" stroke-linejoin="round"/><path d="M214.39,119.06L213.65,119.52L213.05,120.13L212.59,120.83L212.29,121.60L212.17,122.40L212.21,123.19" fill="none" stroke="#2a5db5" stroke-width="1.71" stroke-linecap="round" stroke-linejoin="round"/><path d="M201.34,128.6L203.34,128.6L201.74,133.9L199.74,133.9Z" fill="#4a7fc9"/><path d="M205.64,128.6L207.64,128.6L206.04,133.9L204.04,133.9Z" fill="#4a7fc9"/><path d="M209.74,128.6L211.74,128.6L210.14,133.9L208.14,133.9Z" fill="#4a7fc9"/><path d="M213.84,128.6L215.84,128.6L214.24,133.9L212.24,133.9Z" fill="#4a7fc9"/></g>
<g><path d="M249.47,101.10C241.78,102.00 235.62,107.50 235.62,113.40C235.62,119.30 241.78,124.80 249.47,125.70C245.58,120.50 244.18,117.00 244.18,113.40C244.18,109.80 245.58,106.30 249.47,101.10Z" fill="#fdfdfd" stroke="#000" stroke-width="1.8" stroke-linejoin="round"/><path d="M243.99,123.93L245.25,124.12L245.94,124.61L246.41,124.84L247.61,125.11L248.80,125.00L249.95,124.49L250.29,124.43L250.63,124.49L251.75,124.99L252.70,125.12L253.68,124.99L254.86,124.53L256.10,124.66L257.08,124.53L257.77,124.26L258.39,123.87L258.93,123.36L259.36,122.76L259.66,122.09L259.82,121.37L259.84,120.63L259.72,119.90L259.46,119.21L259.06,118.59L258.56,118.05L257.98,117.64L256.84,117.20L256.10,117.13L255.23,117.20L254.88,117.12L254.59,116.92L254.34,116.45L254.25,115.52L253.95,114.64L253.42,113.84L252.87,113.33L252.07,112.86L251.35,112.65L250.43,112.59L249.69,112.71L248.60,113.21L247.75,114.00L247.26,114.83L246.97,116.01L246.67,116.46L246.17,116.67L245.22,116.51L244.48,116.49L243.29,116.77L242.64,117.12L242.09,117.57L241.62,118.14L241.27,118.79L241.01,119.74L241.01,120.72L241.18,121.47L241.62,122.35L242.25,123.06L243.06,123.61Z" fill="#d0d0d3" stroke="#2f5078" stroke-width="1.80" stroke-linejoin="round"/><path d="M254.68,117.40L254.02,117.82L253.47,118.37L253.06,119.00L252.79,119.69L252.68,120.41L252.72,121.13" fill="none" stroke="#2f5078" stroke-width="1.71" stroke-linecap="round" stroke-linejoin="round"/><path d="M250.28,127.8L252.47,127.8L250.87,133.5L248.67,133.5Z" fill="#2c4f80"/><path d="M254.68,127.8L256.88,127.8L255.27,133.5L253.07,133.5Z" fill="#2c4f80"/></g>
<g><path d="M282.81,101.10C275.11,102.00 268.96,107.50 268.96,113.40C268.96,119.30 275.11,124.80 282.81,125.70C278.91,120.50 277.51,117.00 277.51,113.40C277.51,109.80 278.91,106.30 282.81,101.10Z" fill="#fdfdfd" stroke="#000" stroke-width="1.8" stroke-linejoin="round"/><path d="M279.22,124.89L279.75,125.02L280.51,125.55L281.05,125.82L281.85,126.06L282.45,126.14L283.03,126.14L283.85,126.00L285.14,125.45L285.53,125.38L285.91,125.45L287.17,126.00L288.28,126.15L289.43,126.00L290.76,125.48L292.17,125.62L293.31,125.47L294.12,125.16L294.85,124.70L295.48,124.11L295.98,123.40L296.33,122.61L296.53,121.77L296.55,120.91L296.41,120.06L296.10,119.25L295.64,118.52L295.05,117.89L294.37,117.41L293.82,117.14L293.03,116.89L292.17,116.81L291.07,116.85L290.55,116.57L290.26,116.05L290.10,114.86L289.79,114.04L289.18,113.13L288.34,112.39L287.57,111.97L286.52,111.69L285.64,111.66L284.81,111.80L284.05,112.09L283.56,112.37L282.69,113.13L282.07,114.07L281.79,114.82L281.63,115.56L281.28,116.04L280.74,116.26L279.49,116.08L278.63,116.11L277.49,116.41L276.73,116.82L276.08,117.35L275.53,118.01L275.12,118.78L274.82,119.89L274.82,121.04L275.02,121.91L275.53,122.94L276.30,123.80L277.22,124.42L278.31,124.80Z" fill="#d0d0d3" stroke="#2f5078" stroke-width="1.80" stroke-linejoin="round"/><path d="M290.50,117.13L289.73,117.62L289.09,118.26L288.61,119.00L288.30,119.81L288.16,120.65L288.21,121.49" fill="none" stroke="#2f5078" stroke-width="1.71" stroke-linecap="round" stroke-linejoin="round"/></g>
<g><path d="M311.88,114.60L310.99,113.46L310.08,112.71L309.04,112.16L307.92,111.82L306.75,111.70L305.58,111.82L304.45,112.16L303.41,112.71L302.50,113.46L301.76,114.37L301.20,115.40L300.86,116.53L300.75,117.70L300.86,118.87L301.20,120.00L301.76,121.03L302.24,121.66L302.79,122.21L303.75,122.90L304.82,123.38L305.96,123.65L306.75,123.70L307.92,123.58L309.36,123.10L310.05,123.06L310.93,122.86L312.00,122.32L312.90,121.53L313.57,120.53L313.96,119.40L314.04,118.20L313.80,117.02L313.43,116.20L312.90,115.47Z" fill="#d0d0d3" stroke="#2a5db5" stroke-width="1.80" stroke-linejoin="round"/><path d="M333.74,114.75L333.57,113.73L333.04,112.45L332.43,111.61L331.67,110.90L330.79,110.35L329.48,109.90L328.10,109.81L327.07,109.98L326.10,110.35L325.50,110.69L324.70,111.35L324.09,112.08L323.19,112.43L322.61,112.76L321.84,113.39L321.40,113.90L320.73,115.05L320.44,116.01L320.35,117.00L320.52,118.32L320.87,119.26L321.40,120.10L322.08,120.83L322.90,121.42L323.81,121.83L324.78,122.06L325.78,122.09L326.77,121.93L327.70,121.57L328.28,121.24L329.31,120.33L330.15,120.12L331.10,119.69L332.19,118.85L332.85,118.04L333.34,117.13L333.70,115.79Z" fill="#d0d0d3" stroke="#2a5db5" stroke-width="1.80" stroke-linejoin="round"/><path d="M322.73,110.31L322.54,109.15L322.13,108.05L321.51,107.05L320.70,106.19L319.75,105.50L318.68,105.02L317.53,104.75L316.35,104.71L315.19,104.90L314.09,105.32L313.09,105.94L312.24,106.74L311.55,107.70L311.06,108.77L310.80,109.92L310.76,111.09L310.86,111.87L311.06,112.63L311.55,113.70L311.99,114.35L312.50,114.94L313.52,115.76L313.96,116.80L314.49,117.53L315.39,118.32L316.19,118.75L317.35,119.06L318.25,119.09L319.43,118.86L320.50,118.32L321.40,117.53L322.07,116.53L322.30,115.98L322.51,115.10L322.51,113.90L322.29,112.99L322.54,112.25L322.70,111.48Z" fill="#d0d0d3" stroke="#2a5db5" stroke-width="1.80" stroke-linejoin="round"/><path d="M314.66,124.55L315.19,124.67L315.87,125.15L316.40,125.41L317.15,125.64L317.73,125.71L318.27,125.71L319.05,125.58L319.60,125.40L320.40,124.98L320.76,124.91L321.13,124.98L321.93,125.40L322.43,125.57L323.49,125.72L324.58,125.57L325.88,125.07L327.32,125.23L328.43,125.09L329.20,124.79L329.90,124.36L330.50,123.79L330.97,123.12L331.31,122.37L331.49,121.57L331.51,120.75L331.38,119.94L331.09,119.17L330.65,118.48L330.08,117.88L329.41,117.41L328.70,117.08L328.14,116.93L327.32,116.85L326.11,116.95L325.58,116.69L325.28,116.17L325.12,115.10L324.72,114.14L324.23,113.46L323.46,112.78L322.72,112.39L321.72,112.12L320.92,112.09L320.10,112.23L319.38,112.50L318.91,112.76L318.09,113.49L317.50,114.38L317.23,115.10L317.08,115.77L316.74,116.23L316.40,116.40L316.01,116.43L315.04,116.21L314.19,116.18L313.64,116.25L312.89,116.48L312.16,116.87L311.53,117.39L311.00,118.02L310.61,118.74L310.36,119.56L310.30,120.65L310.51,121.72L311.00,122.70L311.70,123.50L312.61,124.11L313.64,124.47Z" fill="#fdfdfd" stroke="#2a5db5" stroke-width="1.80" stroke-linejoin="round"/><path d="M325.76,117.16L325.03,117.63L324.42,118.23L323.96,118.94L323.67,119.71L323.54,120.51L323.58,121.31" fill="none" stroke="#2a5db5" stroke-width="1.71" stroke-linecap="round" stroke-linejoin="round"/></g>
<g><path d="M359.29,109.78L364.34,106.16L365.36,106.30L366.09,107.50L365.73,108.47L360.16,111.24Z" fill="#f5e61e" stroke="#e6cf3a" stroke-width="0.7" stroke-linejoin="round"/><path d="M360.61,114.23L366.75,115.24L367.37,116.07L367.03,117.42L366.09,117.86L360.20,115.88Z" fill="#f5e61e" stroke="#e6cf3a" stroke-width="0.7" stroke-linejoin="round"/><path d="M358.40,118.31L362.02,123.36L361.88,124.38L360.68,125.10L359.71,124.75L356.94,119.18Z" fill="#f5e61e" stroke="#e6cf3a" stroke-width="0.7" stroke-linejoin="round"/><path d="M353.96,119.63L352.94,125.76L352.12,126.38L350.76,126.04L350.32,125.11L352.31,119.22Z" fill="#f5e61e" stroke="#e6cf3a" stroke-width="0.7" stroke-linejoin="round"/><path d="M349.88,117.42L344.82,121.04L343.80,120.90L343.08,119.70L343.43,118.73L349.00,115.96Z" fill="#f5e61e" stroke="#e6cf3a" stroke-width="0.7" stroke-linejoin="round"/><path d="M348.55,112.97L342.42,111.96L341.80,111.13L342.14,109.78L343.07,109.34L348.97,111.32Z" fill="#f5e61e" stroke="#e6cf3a" stroke-width="0.7" stroke-linejoin="round"/><path d="M350.76,108.89L347.14,103.84L347.29,102.82L348.49,102.10L349.46,102.45L352.22,108.02Z" fill="#f5e61e" stroke="#e6cf3a" stroke-width="0.7" stroke-linejoin="round"/><path d="M355.21,107.57L356.22,101.44L357.05,100.82L358.41,101.16L358.84,102.09L356.86,107.98Z" fill="#f5e61e" stroke="#e6cf3a" stroke-width="0.7" stroke-linejoin="round"/><circle cx="354.58" cy="113.60" r="6.5" fill="#f5e61e" stroke="#f7a928" stroke-width="0.9"/><path d="M339.30,126.41L340.82,126.65L341.62,127.21L342.14,127.47L342.90,127.70L343.48,127.77L344.27,127.75L344.81,127.64L346.03,127.12L346.40,127.05L346.77,127.12L347.95,127.64L349.01,127.78L350.11,127.64L351.39,127.14L352.71,127.27L353.80,127.12L354.57,126.82L355.27,126.39L355.87,125.82L356.35,125.15L356.68,124.39L356.87,123.59L356.89,122.77L356.75,121.95L356.46,121.18L356.04,120.51L355.48,119.90L354.81,119.42L354.29,119.16L353.53,118.93L352.71,118.85L351.70,118.88L351.20,118.61L350.92,118.11L350.81,117.11L350.48,116.13L350.04,115.41L349.28,114.66L348.38,114.14L347.57,113.90L346.54,113.83L345.71,113.96L345.20,114.14L344.52,114.50L344.07,114.85L343.54,115.41L343.00,116.34L342.67,117.60L342.36,118.06L342.03,118.25L341.66,118.30L340.67,118.14L339.84,118.16L338.75,118.46L338.02,118.85L337.41,119.35L336.89,119.99L336.49,120.71L336.25,121.53L336.18,122.63L336.39,123.68L336.87,124.66L337.59,125.49L338.29,125.99Z" fill="#d0d0d3" stroke="#2a5db5" stroke-width="1.80" stroke-linejoin="round"/><path d="M351.12,119.15L350.38,119.63L349.77,120.23L349.31,120.94L349.01,121.72L348.88,122.52L348.93,123.32" fill="none" stroke="#2a5db5" stroke-width="1.71" stroke-linecap="round" stroke-linejoin="round"/></g>
<g><path d="M380.95,114.60L380.06,113.46L379.15,112.71L378.11,112.16L376.99,111.82L375.82,111.70L374.65,111.82L373.52,112.16L372.48,112.71L371.58,113.46L370.83,114.37L370.27,115.40L369.93,116.53L369.82,117.70L369.93,118.87L370.27,120.00L370.83,121.03L371.31,121.66L371.86,122.21L372.82,122.90L373.89,123.38L375.03,123.65L375.82,123.70L376.99,123.58L378.44,123.10L379.12,123.06L380.00,122.86L381.07,122.32L381.98,121.53L382.64,120.53L383.03,119.40L383.11,118.20L382.87,117.02L382.50,116.20L381.98,115.47Z" fill="#d0d0d3" stroke="#2f5078" stroke-width="1.80" stroke-linejoin="round"/><path d="M402.81,114.75L402.64,113.73L402.11,112.45L401.50,111.61L400.74,110.90L399.86,110.35L398.55,109.90L397.17,109.81L396.15,109.98L395.17,110.35L394.57,110.69L393.77,111.35L393.16,112.08L392.26,112.43L391.68,112.76L390.91,113.39L390.47,113.90L389.81,115.05L389.52,116.01L389.42,117.00L389.59,118.32L389.94,119.26L390.47,120.10L391.16,120.83L391.97,121.42L392.88,121.83L393.85,122.06L394.85,122.09L395.84,121.93L396.77,121.57L397.35,121.24L398.38,120.33L399.22,120.12L400.17,119.69L401.27,118.85L401.92,118.04L402.41,117.13L402.77,115.79Z" fill="#d0d0d3" stroke="#2f5078" stroke-width="1.80" stroke-linejoin="round"/><path d="M391.81,110.31L391.61,109.15L391.20,108.05L390.58,107.05L389.77,106.19L388.82,105.50L387.75,105.02L386.60,104.75L385.43,104.71L384.26,104.90L383.16,105.32L382.17,105.94L381.31,106.74L380.62,107.70L380.14,108.77L379.87,109.92L379.83,111.09L379.93,111.87L380.14,112.63L380.62,113.70L381.06,114.35L381.58,114.94L382.59,115.76L383.03,116.80L383.56,117.53L384.46,118.32L385.26,118.75L386.42,119.06L387.32,119.09L388.50,118.86L389.57,118.32L390.48,117.53L391.14,116.53L391.37,115.98L391.58,115.10L391.58,113.90L391.36,112.99L391.61,112.25L391.77,111.48Z" fill="#d0d0d3" stroke="#2f5078" stroke-width="1.80" stroke-linejoin="round"/><path d="M383.73,124.55L384.26,124.67L384.95,125.15L385.47,125.41L386.22,125.64L386.80,125.71L387.35,125.71L388.12,125.58L388.67,125.40L389.47,124.98L389.84,124.91L390.20,124.98L391.00,125.40L391.51,125.57L392.56,125.72L393.65,125.57L394.95,125.07L396.39,125.23L397.51,125.09L398.27,124.79L398.97,124.36L399.57,123.79L400.04,123.12L400.38,122.37L400.56,121.57L400.59,120.75L400.45,119.94L400.16,119.17L399.72,118.48L399.16,117.88L398.49,117.41L397.77,117.08L397.21,116.93L396.39,116.85L395.18,116.95L394.65,116.69L394.35,116.17L394.19,115.10L393.79,114.14L393.31,113.46L392.53,112.78L391.79,112.39L390.79,112.12L389.99,112.09L389.17,112.23L388.45,112.50L387.99,112.76L387.16,113.49L386.57,114.38L386.30,115.10L386.15,115.77L385.81,116.23L385.47,116.40L385.09,116.43L384.11,116.21L383.26,116.18L382.72,116.25L381.96,116.48L381.23,116.87L380.60,117.39L380.07,118.02L379.68,118.74L379.44,119.56L379.37,120.65L379.59,121.72L380.07,122.70L380.77,123.50L381.68,124.11L382.72,124.47Z" fill="#fdfdfd" stroke="#2f5078" stroke-width="1.80" stroke-linejoin="round"/><path d="M394.84,117.16L394.10,117.63L393.49,118.23L393.03,118.94L392.74,119.71L392.61,120.51L392.65,121.31" fill="none" stroke="#2f5078" stroke-width="1.71" stroke-linecap="round" stroke-linejoin="round"/><path d="M382.82,128.5L385.02,128.5L383.42,133.6L381.22,133.6Z" fill="#2c4f80"/><path d="M386.62,128.5L388.82,128.5L387.22,133.6L385.02,133.6Z" fill="#2c4f80"/></g>
<g><path d="M422.15,101.10C414.45,102.00 408.30,107.50 408.30,113.40C408.30,119.30 414.45,124.80 422.15,125.70C418.25,120.50 416.85,117.00 416.85,113.40C416.85,109.80 418.25,106.30 422.15,101.10Z" fill="#fdfdfd" stroke="#000" stroke-width="1.8" stroke-linejoin="round"/><path d="M416.67,123.93L417.93,124.12L418.62,124.61L419.09,124.84L420.29,125.11L421.48,125.00L422.63,124.49L422.97,124.43L423.31,124.49L424.43,124.99L425.38,125.12L426.36,124.99L427.54,124.53L428.78,124.66L429.76,124.53L430.44,124.26L431.07,123.87L431.61,123.36L432.03,122.76L432.34,122.09L432.50,121.37L432.52,120.63L432.40,119.90L432.14,119.21L431.74,118.59L431.24,118.05L430.66,117.64L429.52,117.20L428.78,117.13L427.91,117.20L427.56,117.12L427.26,116.92L427.02,116.45L426.93,115.52L426.63,114.64L426.23,114.00L425.55,113.33L424.75,112.86L424.03,112.65L423.10,112.59L422.36,112.71L421.28,113.21L420.43,114.00L419.94,114.83L419.65,116.01L419.35,116.46L418.85,116.67L417.90,116.51L417.16,116.49L415.97,116.77L415.32,117.12L414.77,117.57L414.30,118.14L413.95,118.79L413.69,119.74L413.69,120.72L413.86,121.47L414.30,122.35L414.93,123.06L415.74,123.61Z" fill="#d0d0d3" stroke="#2f5078" stroke-width="1.80" stroke-linejoin="round"/><path d="M427.36,117.40L426.70,117.82L426.15,118.37L425.74,119.00L425.47,119.69L425.36,120.41L425.40,121.13" fill="none" stroke="#2f5078" stroke-width="1.71" stroke-linecap="round" stroke-linejoin="round"/><path d="M422.95,127.8L425.15,127.8L423.55,133.5L421.35,133.5Z" fill="#2c4f80"/><path d="M427.35,127.8L429.55,127.8L427.95,133.5L425.75,133.5Z" fill="#2c4f80"/></g>
<g><path d="M464.79,109.48L469.85,105.86L470.87,106.00L471.59,107.20L471.24,108.17L465.67,110.94Z" fill="#f5e61e" stroke="#e6cf3a" stroke-width="0.7" stroke-linejoin="round"/><path d="M466.12,113.93L472.25,114.94L472.87,115.77L472.53,117.12L471.60,117.56L465.71,115.58Z" fill="#f5e61e" stroke="#e6cf3a" stroke-width="0.7" stroke-linejoin="round"/><path d="M463.91,118.01L467.53,123.06L467.38,124.08L466.18,124.80L465.22,124.45L462.45,118.88Z" fill="#f5e61e" stroke="#e6cf3a" stroke-width="0.7" stroke-linejoin="round"/><path d="M459.46,119.33L458.45,125.46L457.62,126.08L456.27,125.74L455.83,124.81L457.81,118.92Z" fill="#f5e61e" stroke="#e6cf3a" stroke-width="0.7" stroke-linejoin="round"/><path d="M455.38,117.12L450.33,120.74L449.31,120.60L448.59,119.40L448.94,118.43L454.51,115.66Z" fill="#f5e61e" stroke="#e6cf3a" stroke-width="0.7" stroke-linejoin="round"/><path d="M454.06,112.67L447.93,111.66L447.31,110.83L447.64,109.48L448.58,109.04L454.47,111.02Z" fill="#f5e61e" stroke="#e6cf3a" stroke-width="0.7" stroke-linejoin="round"/><path d="M456.27,108.59L452.65,103.54L452.79,102.52L453.99,101.80L454.96,102.15L457.73,107.72Z" fill="#f5e61e" stroke="#e6cf3a" stroke-width="0.7" stroke-linejoin="round"/><path d="M460.72,107.27L461.73,101.14L462.56,100.52L463.91,100.86L464.35,101.79L462.37,107.68Z" fill="#f5e61e" stroke="#e6cf3a" stroke-width="0.7" stroke-linejoin="round"/><circle cx="460.09" cy="113.30" r="6.5" fill="#f5e61e" stroke="#f7a928" stroke-width="0.9"/><path d="M444.55,126.31L445.86,126.50L446.64,127.04L447.16,127.30L447.91,127.53L448.49,127.60L449.27,127.58L449.81,127.47L451.04,126.95L451.40,126.88L451.77,126.95L452.96,127.47L454.02,127.61L455.11,127.47L456.38,126.97L457.72,127.11L458.80,126.96L459.56,126.67L460.26,126.23L460.85,125.67L461.33,125.00L461.66,124.26L461.84,123.46L461.87,122.64L461.73,121.83L461.44,121.07L461.02,120.40L460.47,119.80L459.80,119.32L459.28,119.06L458.53,118.84L457.72,118.75L456.67,118.79L456.17,118.52L455.90,118.03L455.79,117.05L455.46,116.08L454.87,115.19L454.26,114.62L453.37,114.11L452.58,113.86L451.55,113.80L450.73,113.93L450.01,114.20L449.55,114.47L449.10,114.81L448.57,115.37L448.04,116.29L447.71,117.53L447.39,118.00L446.87,118.22L445.67,118.05L444.86,118.08L443.77,118.37L443.05,118.76L442.44,119.25L441.92,119.89L441.53,120.61L441.25,121.66L441.24,122.75L441.43,123.58L441.92,124.55L442.62,125.35L443.52,125.96Z" fill="#d0d0d3" stroke="#2a5db5" stroke-width="1.80" stroke-linejoin="round"/><path d="M456.14,119.06L455.40,119.52L454.80,120.13L454.34,120.83L454.04,121.60L453.92,122.40L453.96,123.19" fill="none" stroke="#2a5db5" stroke-width="1.71" stroke-linecap="round" stroke-linejoin="round"/><path d="M447.89,128.8L449.89,128.8L448.29,133.8L446.29,133.8Z" fill="#4a7fc9"/><path d="M452.29,128.8L454.29,128.8L452.69,133.8L450.69,133.8Z" fill="#4a7fc9"/></g>
<g><path d="M499.33,109.48L504.39,105.86L505.41,106.00L506.13,107.20L505.78,108.17L500.21,110.94Z" fill="#f5e61e" stroke="#e6cf3a" stroke-width="0.7" stroke-linejoin="round"/><path d="M500.65,113.93L506.79,114.94L507.41,115.77L507.07,117.12L506.14,117.56L500.24,115.58Z" fill="#f5e61e" stroke="#e6cf3a" stroke-width="0.7" stroke-linejoin="round"/><path d="M498.44,118.01L502.07,123.06L501.92,124.08L500.72,124.80L499.75,124.45L496.99,118.88Z" fill="#f5e61e" stroke="#e6cf3a" stroke-width="0.7" stroke-linejoin="round"/><path d="M494.00,119.33L492.98,125.46L492.16,126.08L490.80,125.74L490.36,124.81L492.35,118.92Z" fill="#f5e61e" stroke="#e6cf3a" stroke-width="0.7" stroke-linejoin="round"/><path d="M489.92,117.12L484.86,120.74L483.84,120.60L483.12,119.40L483.47,118.43L489.04,115.66Z" fill="#f5e61e" stroke="#e6cf3a" stroke-width="0.7" stroke-linejoin="round"/><path d="M488.60,112.67L482.46,111.66L481.84,110.83L482.18,109.48L483.11,109.04L489.01,111.02Z" fill="#f5e61e" stroke="#e6cf3a" stroke-width="0.7" stroke-linejoin="round"/><path d="M490.81,108.59L487.18,103.54L487.33,102.52L488.53,101.80L489.50,102.15L492.26,107.72Z" fill="#f5e61e" stroke="#e6cf3a" stroke-width="0.7" stroke-linejoin="round"/><path d="M495.25,107.27L496.27,101.14L497.09,100.52L498.45,100.86L498.89,101.79L496.90,107.68Z" fill="#f5e61e" stroke="#e6cf3a" stroke-width="0.7" stroke-linejoin="round"/><circle cx="494.62" cy="113.30" r="6.5" fill="#f5e61e" stroke="#f7a928" stroke-width="0.9"/><path d="M479.09,126.31L480.39,126.50L481.18,127.04L481.70,127.30L482.45,127.53L483.02,127.60L483.81,127.58L484.34,127.47L485.57,126.95L485.94,126.88L486.31,126.95L487.50,127.47L488.55,127.61L489.64,127.47L490.92,126.97L492.25,127.11L493.33,126.96L494.10,126.67L494.79,126.23L495.39,125.67L495.86,125.00L496.20,124.26L496.38,123.46L496.40,122.64L496.27,121.83L495.97,121.07L495.56,120.40L495.00,119.80L494.34,119.32L493.82,119.06L493.07,118.84L492.25,118.75L491.21,118.79L490.71,118.52L490.43,118.03L490.33,117.05L489.99,116.08L489.41,115.19L488.80,114.62L487.91,114.11L487.11,113.86L486.08,113.80L485.26,113.93L484.54,114.20L484.08,114.47L483.63,114.81L483.11,115.37L482.57,116.29L482.25,117.53L481.93,118.00L481.40,118.22L480.21,118.05L479.39,118.08L478.31,118.37L477.59,118.76L476.98,119.25L476.46,119.89L476.07,120.61L475.78,121.66L475.78,122.75L475.97,123.58L476.46,124.55L477.15,125.35L478.06,125.96Z" fill="#d0d0d3" stroke="#2a5db5" stroke-width="1.80" stroke-linejoin="round"/><path d="M490.67,119.06L489.94,119.52L489.33,120.13L488.88,120.83L488.58,121.60L488.45,122.40L488.50,123.19" fill="none" stroke="#2a5db5" stroke-width="1.71" stroke-linecap="round" stroke-linejoin="round"/><path d="M477.62,128.6L479.62,128.6L478.02,133.9L476.02,133.9Z" fill="#4a7fc9"/><path d="M481.93,128.6L483.93,128.6L482.32,133.9L480.32,133.9Z" fill="#4a7fc9"/><path d="M486.03,128.6L488.03,128.6L486.43,133.9L484.43,133.9Z" fill="#4a7fc9"/><path d="M490.12,128.6L492.12,128.6L490.52,133.9L488.52,133.9Z" fill="#4a7fc9"/></g>
<g><path d="M525.76,101.10C518.06,102.00 511.91,107.50 511.91,113.40C511.91,119.30 518.06,124.80 525.76,125.70C521.86,120.50 520.46,117.00 520.46,113.40C520.46,109.80 521.86,106.30 525.76,101.10Z" fill="#fdfdfd" stroke="#000" stroke-width="1.8" stroke-linejoin="round"/><path d="M520.28,123.93L521.54,124.12L522.23,124.61L522.70,124.84L523.89,125.11L525.08,125.00L526.24,124.49L526.57,124.43L526.91,124.49L528.03,124.99L528.98,125.12L529.96,124.99L531.14,124.53L532.39,124.66L533.36,124.53L534.05,124.26L534.68,123.87L535.21,123.36L535.64,122.76L535.94,122.09L536.11,121.37L536.13,120.63L536.01,119.90L535.76,119.24L535.37,118.61L534.87,118.07L534.27,117.64L533.12,117.20L532.39,117.13L531.51,117.20L531.16,117.12L530.87,116.92L530.62,116.45L530.53,115.52L530.24,114.64L529.71,113.84L529.16,113.33L528.35,112.86L527.64,112.65L526.71,112.59L525.97,112.71L524.91,113.19L524.03,114.00L523.55,114.83L523.25,116.01L522.95,116.46L522.45,116.67L521.51,116.51L520.77,116.49L519.57,116.77L518.93,117.12L518.36,117.59L517.89,118.16L517.56,118.79L517.30,119.74L517.27,120.50L517.47,121.47L517.91,122.35L518.54,123.06L519.35,123.61Z" fill="#d0d0d3" stroke="#2f5078" stroke-width="1.80" stroke-linejoin="round"/><path d="M530.96,117.40L530.30,117.82L529.76,118.37L529.34,119.00L529.08,119.69L528.96,120.41L529.00,121.13" fill="none" stroke="#2f5078" stroke-width="1.71" stroke-linecap="round" stroke-linejoin="round"/><path d="M526.56,127.8L528.76,127.8L527.16,133.5L524.96,133.5Z" fill="#2c4f80"/><path d="M530.96,127.8L533.16,127.8L531.56,133.5L529.36,133.5Z" fill="#2c4f80"/></g>
<g><path d="M564.50,101.10C556.80,102.00 550.65,107.50 550.65,113.40C550.65,119.30 556.80,124.80 564.50,125.70C560.60,120.50 559.20,117.00 559.20,113.40C559.20,109.80 560.60,106.30 564.50,101.10Z" fill="#fdfdfd" stroke="#000" stroke-width="1.8" stroke-linejoin="round"/><line x1="541.20" x2="577.50" y1="115.2" y2="115.2" stroke="#2f5078" stroke-width="1.4"/><line x1="542.70" x2="576.70" y1="119" y2="119" stroke="#2f5078" stroke-width="1.4"/><line x1="544.20" x2="575.70" y1="123.3" y2="123.3" stroke="#2f5078" stroke-width="2.6"/></g>
<g><path d="M601.04,109.78L606.09,106.16L607.11,106.30L607.84,107.50L607.48,108.47L601.91,111.24Z" fill="#f5e61e" stroke="#e6cf3a" stroke-width="0.7" stroke-linejoin="round"/><path d="M602.36,114.23L608.50,115.24L609.12,116.07L608.78,117.42L607.84,117.86L601.95,115.88Z" fill="#f5e61e" stroke="#e6cf3a" stroke-width="0.7" stroke-linejoin="round"/><path d="M600.15,118.31L603.77,123.36L603.63,124.38L602.43,125.10L601.46,124.75L598.69,119.18Z" fill="#f5e61e" stroke="#e6cf3a" stroke-width="0.7" stroke-linejoin="round"/><path d="M595.71,119.63L594.69,125.76L593.87,126.38L592.51,126.04L592.07,125.11L594.06,119.22Z" fill="#f5e61e" stroke="#e6cf3a" stroke-width="0.7" stroke-linejoin="round"/><path d="M591.63,117.42L586.57,121.04L585.55,120.90L584.83,119.70L585.18,118.73L590.75,115.96Z" fill="#f5e61e" stroke="#e6cf3a" stroke-width="0.7" stroke-linejoin="round"/><path d="M590.30,112.97L584.17,111.96L583.55,111.13L583.89,109.78L584.82,109.34L590.72,111.32Z" fill="#f5e61e" stroke="#e6cf3a" stroke-width="0.7" stroke-linejoin="round"/><path d="M592.51,108.89L588.89,103.84L589.04,102.82L590.24,102.10L591.21,102.45L593.97,108.02Z" fill="#f5e61e" stroke="#e6cf3a" stroke-width="0.7" stroke-linejoin="round"/><path d="M596.96,107.57L597.97,101.44L598.80,100.82L600.16,101.16L600.59,102.09L598.61,107.98Z" fill="#f5e61e" stroke="#e6cf3a" stroke-width="0.7" stroke-linejoin="round"/><circle cx="596.33" cy="113.60" r="6.5" fill="#f5e61e" stroke="#f7a928" stroke-width="0.9"/><path d="M581.05,126.41L582.62,126.68L583.37,127.21L583.89,127.47L584.65,127.70L585.23,127.77L586.02,127.75L586.56,127.64L587.78,127.12L588.15,127.05L588.52,127.12L589.70,127.64L590.76,127.78L591.86,127.64L593.14,127.14L594.46,127.27L595.55,127.12L596.32,126.82L597.02,126.39L597.62,125.82L598.10,125.15L598.43,124.39L598.62,123.59L598.64,122.77L598.50,121.95L598.21,121.18L597.77,120.48L597.23,119.90L596.56,119.42L596.04,119.16L595.28,118.93L594.46,118.85L593.45,118.88L592.95,118.61L592.67,118.11L592.56,117.11L592.23,116.13L591.64,115.23L591.03,114.66L590.13,114.14L589.32,113.90L588.29,113.83L587.46,113.96L586.74,114.24L586.24,114.52L585.65,115.01L585.29,115.41L584.75,116.34L584.42,117.60L584.11,118.06L583.78,118.25L583.41,118.30L582.42,118.14L581.59,118.16L580.50,118.46L579.77,118.85L579.16,119.35L578.64,119.99L578.24,120.71L577.96,121.77L577.93,122.63L578.14,123.68L578.62,124.66L579.34,125.49L580.04,125.99Z" fill="#d0d0d3" stroke="#2a5db5" stroke-width="1.80" stroke-linejoin="round"/><path d="M592.87,119.15L592.13,119.63L591.52,120.23L591.06,120.94L590.76,121.72L590.63,122.52L590.68,123.32" fill="none" stroke="#2a5db5" stroke-width="1.71" stroke-linecap="round" stroke-linejoin="round"/></g>
<g><path d="M635.57,109.78L640.63,106.16L641.65,106.30L642.37,107.50L642.02,108.47L636.45,111.24Z" fill="#f5e61e" stroke="#e6cf3a" stroke-width="0.7" stroke-linejoin="round"/><path d="M636.90,114.23L643.03,115.24L643.65,116.07L643.31,117.42L642.38,117.86L636.48,115.88Z" fill="#f5e61e" stroke="#e6cf3a" stroke-width="0.7" stroke-linejoin="round"/><path d="M634.69,118.31L638.31,123.36L638.16,124.38L636.96,125.10L635.99,124.75L633.23,119.18Z" fill="#f5e61e" stroke="#e6cf3a" stroke-width="0.7" stroke-linejoin="round"/><path d="M630.24,119.63L629.23,125.76L628.40,126.38L627.04,126.04L626.61,125.11L628.59,119.22Z" fill="#f5e61e" stroke="#e6cf3a" stroke-width="0.7" stroke-linejoin="round"/><path d="M626.16,117.42L621.11,121.04L620.09,120.90L619.36,119.70L619.72,118.73L625.29,115.96Z" fill="#f5e61e" stroke="#e6cf3a" stroke-width="0.7" stroke-linejoin="round"/><path d="M624.84,112.97L618.70,111.96L618.08,111.13L618.42,109.78L619.36,109.34L625.25,111.32Z" fill="#f5e61e" stroke="#e6cf3a" stroke-width="0.7" stroke-linejoin="round"/><path d="M627.05,108.89L623.43,103.84L623.57,102.82L624.77,102.10L625.74,102.45L628.51,108.02Z" fill="#f5e61e" stroke="#e6cf3a" stroke-width="0.7" stroke-linejoin="round"/><path d="M631.49,107.57L632.51,101.44L633.33,100.82L634.69,101.16L635.13,102.09L633.14,107.98Z" fill="#f5e61e" stroke="#e6cf3a" stroke-width="0.7" stroke-linejoin="round"/><circle cx="630.87" cy="113.60" r="6.5" fill="#f5e61e" stroke="#f7a928" stroke-width="0.9"/><path d="M615.59,126.41L617.16,126.68L617.90,127.21L618.43,127.47L619.18,127.70L619.76,127.77L620.55,127.75L621.09,127.64L622.31,127.12L622.68,127.05L623.05,127.12L624.24,127.64L625.30,127.78L626.39,127.64L627.67,127.14L629.00,127.27L630.08,127.12L630.86,126.82L631.55,126.39L632.15,125.82L632.63,125.15L632.97,124.39L633.15,123.59L633.18,122.77L633.04,121.95L632.75,121.18L632.31,120.48L631.77,119.90L631.10,119.42L630.57,119.16L629.82,118.93L629.00,118.85L627.99,118.88L627.48,118.61L627.21,118.11L627.10,117.11L626.77,116.13L626.17,115.23L625.56,114.66L624.66,114.14L623.86,113.90L622.82,113.83L622.00,113.96L621.27,114.24L620.78,114.52L620.18,115.01L619.83,115.41L619.29,116.34L618.96,117.60L618.64,118.06L618.32,118.25L617.94,118.30L616.95,118.14L616.13,118.16L615.04,118.46L614.31,118.85L613.70,119.35L613.17,119.99L612.78,120.71L612.49,121.77L612.46,122.63L612.67,123.68L613.15,124.66L613.87,125.49L614.57,125.99Z" fill="#d0d0d3" stroke="#2a5db5" stroke-width="1.80" stroke-linejoin="round"/><path d="M627.40,119.15L626.66,119.63L626.05,120.23L625.59,120.94L625.29,121.72L625.17,122.52L625.21,123.32" fill="none" stroke="#2a5db5" stroke-width="1.71" stroke-linecap="round" stroke-linejoin="round"/></g>
<g><path d="M663.90,101.10C656.20,102.00 650.05,107.50 650.05,113.40C650.05,119.30 656.20,124.80 663.90,125.70C660.00,120.50 658.60,117.00 658.60,113.40C658.60,109.80 660.00,106.30 663.90,101.10Z" fill="#fdfdfd" stroke="#000" stroke-width="1.8" stroke-linejoin="round"/><path d="M658.42,123.93L659.68,124.12L660.37,124.61L660.84,124.84L662.04,125.11L663.23,125.00L664.38,124.49L664.72,124.43L665.06,124.49L666.18,124.99L667.13,125.12L668.11,124.99L669.29,124.53L670.53,124.66L671.51,124.53L672.19,124.26L672.82,123.87L673.36,123.36L673.78,122.76L674.09,122.09L674.25,121.37L674.27,120.63L674.15,119.90L673.90,119.24L673.51,118.61L673.01,118.07L672.41,117.64L671.27,117.20L670.53,117.13L669.66,117.20L669.31,117.12L669.01,116.92L668.77,116.45L668.68,115.52L668.38,114.64L667.85,113.84L667.30,113.33L666.50,112.86L665.78,112.65L664.85,112.59L664.11,112.71L663.05,113.19L662.18,114.00L661.69,114.83L661.40,116.01L661.10,116.46L660.60,116.67L659.65,116.51L658.91,116.49L657.72,116.77L657.07,117.12L656.50,117.59L656.03,118.16L655.70,118.79L655.44,119.74L655.42,120.50L655.61,121.47L656.05,122.35L656.68,123.06L657.49,123.61Z" fill="#d0d0d3" stroke="#2f5078" stroke-width="1.80" stroke-linejoin="round"/><path d="M669.11,117.40L668.45,117.82L667.90,118.37L667.49,119.00L667.22,119.69L667.11,120.41L667.15,121.13" fill="none" stroke="#2f5078" stroke-width="1.71" stroke-linecap="round" stroke-linejoin="round"/><path d="M664.70,127.8L666.90,127.8L665.30,133.5L663.10,133.5Z" fill="#2c4f80"/><path d="M669.10,127.8L671.30,127.8L669.70,133.5L667.50,133.5Z" fill="#2c4f80"/></g>
<g><path d="M698.44,101.10C690.74,102.00 684.59,107.50 684.59,113.40C684.59,119.30 690.74,124.80 698.44,125.70C694.54,120.50 693.14,117.00 693.14,113.40C693.14,109.80 694.54,106.30 698.44,101.10Z" fill="#fdfdfd" stroke="#000" stroke-width="1.8" stroke-linejoin="round"/><path d="M692.96,123.93L694.22,124.12L694.91,124.61L695.38,124.84L696.57,125.11L697.76,125.00L698.91,124.49L699.25,124.43L699.59,124.49L700.71,124.99L701.66,125.12L702.64,124.99L703.82,124.53L705.07,124.66L706.04,124.53L706.73,124.26L707.36,123.87L707.89,123.36L708.32,122.76L708.62,122.09L708.79,121.37L708.81,120.63L708.68,119.90L708.43,119.24L708.05,118.61L707.55,118.07L706.95,117.64L705.80,117.20L705.07,117.13L704.19,117.20L703.84,117.12L703.55,116.92L703.30,116.45L703.21,115.52L702.91,114.64L702.38,113.84L701.84,113.33L701.03,112.86L700.32,112.65L699.39,112.59L698.65,112.71L697.59,113.19L696.71,114.00L696.23,114.83L695.93,116.01L695.63,116.46L695.13,116.67L694.18,116.51L693.45,116.49L692.25,116.77L691.60,117.12L691.04,117.59L690.57,118.16L690.24,118.79L689.98,119.74L689.95,120.50L690.15,121.47L690.59,122.35L691.21,123.06L692.03,123.61Z" fill="#d0d0d3" stroke="#2f5078" stroke-width="1.80" stroke-linejoin="round"/><path d="M703.64,117.40L702.98,117.82L702.44,118.37L702.02,119.00L701.76,119.69L701.64,120.41L701.68,121.13" fill="none" stroke="#2f5078" stroke-width="1.71" stroke-linecap="round" stroke-linejoin="round"/><path d="M699.24,127.8L701.44,127.8L699.84,133.5L697.64,133.5Z" fill="#2c4f80"/><path d="M703.64,127.8L705.84,127.8L704.24,133.5L702.04,133.5Z" fill="#2c4f80"/></g>
<g><path d="M739.18,109.78L744.24,106.16L745.26,106.30L745.98,107.50L745.63,108.47L740.06,111.24Z" fill="#f5e61e" stroke="#e6cf3a" stroke-width="0.7" stroke-linejoin="round"/><path d="M740.50,114.23L746.64,115.24L747.26,116.07L746.92,117.42L745.99,117.86L740.09,115.88Z" fill="#f5e61e" stroke="#e6cf3a" stroke-width="0.7" stroke-linejoin="round"/><path d="M738.29,118.31L741.92,123.36L741.77,124.38L740.57,125.10L739.60,124.75L736.84,119.18Z" fill="#f5e61e" stroke="#e6cf3a" stroke-width="0.7" stroke-linejoin="round"/><path d="M733.85,119.63L732.83,125.76L732.01,126.38L730.65,126.04L730.21,125.11L732.20,119.22Z" fill="#f5e61e" stroke="#e6cf3a" stroke-width="0.7" stroke-linejoin="round"/><path d="M729.77,117.42L724.71,121.04L723.69,120.90L722.97,119.70L723.32,118.73L728.89,115.96Z" fill="#f5e61e" stroke="#e6cf3a" stroke-width="0.7" stroke-linejoin="round"/><path d="M728.45,112.97L722.31,111.96L721.69,111.13L722.03,109.78L722.96,109.34L728.86,111.32Z" fill="#f5e61e" stroke="#e6cf3a" stroke-width="0.7" stroke-linejoin="round"/><path d="M730.66,108.89L727.03,103.84L727.18,102.82L728.38,102.10L729.35,102.45L732.11,108.02Z" fill="#f5e61e" stroke="#e6cf3a" stroke-width="0.7" stroke-linejoin="round"/><path d="M735.10,107.57L736.12,101.44L736.94,100.82L738.30,101.16L738.74,102.09L736.75,107.98Z" fill="#f5e61e" stroke="#e6cf3a" stroke-width="0.7" stroke-linejoin="round"/><circle cx="734.48" cy="113.60" r="6.5" fill="#f5e61e" stroke="#f7a928" stroke-width="0.9"/><path d="M719.20,126.41L720.76,126.68L721.51,127.21L722.03,127.47L722.79,127.70L723.37,127.77L724.16,127.75L724.70,127.64L725.92,127.12L726.29,127.05L726.66,127.12L727.84,127.64L728.90,127.78L730.00,127.64L731.28,127.14L732.60,127.27L733.69,127.12L734.46,126.82L735.16,126.39L735.76,125.82L736.24,125.15L736.58,124.39L736.76,123.59L736.78,122.77L736.65,121.95L736.35,121.18L735.91,120.48L735.37,119.90L734.70,119.42L734.18,119.16L733.42,118.93L732.60,118.85L731.59,118.88L731.09,118.61L730.81,118.11L730.71,117.11L730.37,116.13L729.78,115.23L729.17,114.66L728.27,114.14L727.47,113.90L726.43,113.83L725.60,113.96L724.88,114.24L724.39,114.52L723.79,115.01L723.43,115.41L722.89,116.34L722.57,117.60L722.25,118.06L721.92,118.25L721.55,118.30L720.56,118.14L719.74,118.16L718.64,118.46L717.92,118.85L717.31,119.35L716.78,119.99L716.39,120.71L716.10,121.77L716.07,122.63L716.28,123.68L716.76,124.66L717.48,125.49L718.18,125.99Z" fill="#d0d0d3" stroke="#2a5db5" stroke-width="1.80" stroke-linejoin="round"/><path d="M731.01,119.15L730.27,119.63L729.66,120.23L729.20,120.94L728.90,121.72L728.77,122.52L728.82,123.32" fill="none" stroke="#2a5db5" stroke-width="1.71" stroke-linecap="round" stroke-linejoin="round"/></g>
<g><path d="M767.92,109.68L772.97,106.06L773.99,106.20L774.71,107.40L774.36,108.37L768.79,111.14Z" fill="#f5e61e" stroke="#e6cf3a" stroke-width="0.7" stroke-linejoin="round"/><path d="M769.24,114.13L775.37,115.14L775.99,115.97L775.66,117.32L774.72,117.76L768.83,115.78Z" fill="#f5e61e" stroke="#e6cf3a" stroke-width="0.7" stroke-linejoin="round"/><path d="M767.03,118.21L770.65,123.26L770.51,124.28L769.31,125.00L768.34,124.65L765.57,119.08Z" fill="#f5e61e" stroke="#e6cf3a" stroke-width="0.7" stroke-linejoin="round"/><path d="M762.58,119.53L761.57,125.66L760.74,126.28L759.39,125.94L758.95,125.01L760.93,119.12Z" fill="#f5e61e" stroke="#e6cf3a" stroke-width="0.7" stroke-linejoin="round"/><path d="M758.51,117.32L753.45,120.94L752.43,120.80L751.71,119.60L752.06,118.63L757.63,115.86Z" fill="#f5e61e" stroke="#e6cf3a" stroke-width="0.7" stroke-linejoin="round"/><path d="M757.18,112.87L751.05,111.86L750.43,111.03L750.77,109.68L751.70,109.24L757.59,111.22Z" fill="#f5e61e" stroke="#e6cf3a" stroke-width="0.7" stroke-linejoin="round"/><path d="M759.39,108.79L755.77,103.74L755.92,102.72L757.12,102.00L758.08,102.35L760.85,107.92Z" fill="#f5e61e" stroke="#e6cf3a" stroke-width="0.7" stroke-linejoin="round"/><path d="M763.84,107.47L764.85,101.34L765.68,100.72L767.03,101.06L767.47,101.99L765.49,107.88Z" fill="#f5e61e" stroke="#e6cf3a" stroke-width="0.7" stroke-linejoin="round"/><circle cx="763.21" cy="113.50" r="6.5" fill="#f5e61e" stroke="#f7a928" stroke-width="0.9"/><path d="M766.78,123.81L767.90,123.97L768.89,124.58L769.90,124.81L770.91,124.72L771.93,124.26L772.22,124.20L772.51,124.26L773.51,124.71L774.31,124.82L775.14,124.71L776.15,124.31L777.24,124.42L778.08,124.31L778.67,124.09L779.20,123.76L779.65,123.33L780.01,122.82L780.26,122.25L780.40,121.65L780.42,121.02L780.32,120.41L780.10,119.82L779.76,119.30L779.34,118.84L778.83,118.48L777.86,118.12L777.24,118.06L776.30,118.13L775.87,117.91L775.65,117.48L775.57,116.66L775.31,115.90L774.88,115.25L774.27,114.71L773.73,114.42L773.13,114.24L772.35,114.19L771.72,114.29L770.82,114.70L770.08,115.38L769.68,116.08L769.42,117.13L769.16,117.52L768.89,117.67L768.57,117.70L767.85,117.54L767.20,117.51L766.21,117.74L765.66,118.04L765.18,118.43L764.78,118.91L764.48,119.46L764.29,120.08L764.24,120.91L764.41,121.72L764.78,122.47L765.33,123.09L766.00,123.54Z" fill="#fdfdfd" stroke="#2a5db5" stroke-width="1.66" stroke-linejoin="round"/><path d="M776.06,118.29L775.50,118.65L775.04,119.11L774.69,119.64L774.46,120.23L774.37,120.84L774.40,121.44" fill="none" stroke="#2a5db5" stroke-width="1.58" stroke-linecap="round" stroke-linejoin="round"/></g>
<g><path d="M807.15,101.10C799.45,102.00 793.30,107.50 793.30,113.40C793.30,119.30 799.45,124.80 807.15,125.70C803.25,120.50 801.85,117.00 801.85,113.40C801.85,109.80 803.25,106.30 807.15,101.10Z" fill="#fdfdfd" stroke="#000" stroke-width="1.8" stroke-linejoin="round"/></g>
<g><path d="M841.68,101.10C833.98,102.00 827.83,107.50 827.83,113.40C827.83,119.30 833.98,124.80 841.68,125.70C837.78,120.50 836.38,117.00 836.38,113.40C836.38,109.80 837.78,106.30 841.68,101.10Z" fill="#fdfdfd" stroke="#000" stroke-width="1.8" stroke-linejoin="round"/></g>
<g><path d="M874.72,109.48L879.78,105.86L880.80,106.00L881.52,107.20L881.17,108.17L875.60,110.94Z" fill="#f5e61e" stroke="#e6cf3a" stroke-width="0.7" stroke-linejoin="round"/><path d="M876.05,113.93L882.18,114.94L882.80,115.77L882.46,117.12L881.53,117.56L875.63,115.58Z" fill="#f5e61e" stroke="#e6cf3a" stroke-width="0.7" stroke-linejoin="round"/><path d="M873.84,118.01L877.46,123.06L877.31,124.08L876.11,124.80L875.14,124.45L872.38,118.88Z" fill="#f5e61e" stroke="#e6cf3a" stroke-width="0.7" stroke-linejoin="round"/><path d="M869.39,119.33L868.38,125.46L867.55,126.08L866.19,125.74L865.76,124.81L867.74,118.92Z" fill="#f5e61e" stroke="#e6cf3a" stroke-width="0.7" stroke-linejoin="round"/><path d="M865.31,117.12L860.26,120.74L859.24,120.60L858.51,119.40L858.87,118.43L864.44,115.66Z" fill="#f5e61e" stroke="#e6cf3a" stroke-width="0.7" stroke-linejoin="round"/><path d="M863.99,112.67L857.85,111.66L857.23,110.83L857.57,109.48L858.51,109.04L864.40,111.02Z" fill="#f5e61e" stroke="#e6cf3a" stroke-width="0.7" stroke-linejoin="round"/><path d="M866.20,108.59L862.58,103.54L862.72,102.52L863.92,101.80L864.89,102.15L867.66,107.72Z" fill="#f5e61e" stroke="#e6cf3a" stroke-width="0.7" stroke-linejoin="round"/><path d="M870.64,107.27L871.66,101.14L872.48,100.52L873.84,100.86L874.28,101.79L872.29,107.68Z" fill="#f5e61e" stroke="#e6cf3a" stroke-width="0.7" stroke-linejoin="round"/><circle cx="870.02" cy="113.30" r="6.5" fill="#f5e61e" stroke="#f7a928" stroke-width="0.9"/></g>
<g><path d="M906.06,109.68L911.12,106.06L912.14,106.20L912.86,107.40L912.51,108.37L906.93,111.14Z" fill="#f5e61e" stroke="#e6cf3a" stroke-width="0.7" stroke-linejoin="round"/><path d="M907.38,114.13L913.52,115.14L914.14,115.97L913.80,117.32L912.86,117.76L906.97,115.78Z" fill="#f5e61e" stroke="#e6cf3a" stroke-width="0.7" stroke-linejoin="round"/><path d="M905.17,118.21L908.79,123.26L908.65,124.28L907.45,125.00L906.48,124.65L903.72,119.08Z" fill="#f5e61e" stroke="#e6cf3a" stroke-width="0.7" stroke-linejoin="round"/><path d="M900.73,119.53L899.71,125.66L898.89,126.28L897.53,125.94L897.09,125.01L899.08,119.12Z" fill="#f5e61e" stroke="#e6cf3a" stroke-width="0.7" stroke-linejoin="round"/><path d="M896.65,117.32L891.59,120.94L890.57,120.80L889.85,119.60L890.20,118.63L895.77,115.86Z" fill="#f5e61e" stroke="#e6cf3a" stroke-width="0.7" stroke-linejoin="round"/><path d="M895.33,112.87L889.19,111.86L888.57,111.03L888.91,109.68L889.84,109.24L895.74,111.22Z" fill="#f5e61e" stroke="#e6cf3a" stroke-width="0.7" stroke-linejoin="round"/><path d="M897.53,108.79L893.91,103.74L894.06,102.72L895.26,102.00L896.23,102.35L898.99,107.92Z" fill="#f5e61e" stroke="#e6cf3a" stroke-width="0.7" stroke-linejoin="round"/><path d="M901.98,107.47L903.00,101.34L903.82,100.72L905.18,101.06L905.61,101.99L903.63,107.88Z" fill="#f5e61e" stroke="#e6cf3a" stroke-width="0.7" stroke-linejoin="round"/><circle cx="901.35" cy="113.50" r="6.5" fill="#f5e61e" stroke="#f7a928" stroke-width="0.9"/><path d="M904.93,123.81L906.05,123.97L907.04,124.58L908.05,124.81L909.05,124.72L910.07,124.26L910.37,124.20L910.66,124.26L911.65,124.71L912.45,124.82L913.28,124.71L914.29,124.31L915.38,124.42L916.23,124.31L916.81,124.09L917.34,123.76L917.79,123.33L918.15,122.82L918.41,122.25L918.55,121.65L918.56,121.02L918.46,120.41L918.24,119.82L917.91,119.30L917.48,118.84L916.97,118.48L916.00,118.12L915.38,118.06L914.44,118.13L914.01,117.91L913.79,117.48L913.72,116.66L913.45,115.90L913.02,115.25L912.41,114.71L911.88,114.42L911.27,114.24L910.49,114.19L909.86,114.29L908.97,114.70L908.23,115.38L907.82,116.08L907.56,117.13L907.30,117.52L907.03,117.67L906.72,117.70L905.99,117.54L905.34,117.51L904.35,117.74L903.80,118.04L903.32,118.43L902.92,118.91L902.63,119.46L902.44,120.08L902.39,120.91L902.55,121.72L902.92,122.47L903.47,123.09L904.14,123.54Z" fill="#fdfdfd" stroke="#2a5db5" stroke-width="1.66" stroke-linejoin="round"/><path d="M914.20,118.29L913.64,118.65L913.18,119.11L912.83,119.64L912.61,120.23L912.51,120.84L912.54,121.44" fill="none" stroke="#2a5db5" stroke-width="1.58" stroke-linecap="round" stroke-linejoin="round"/></g>
<g><path d="M945.29,101.10C937.59,102.00 931.44,107.50 931.44,113.40C931.44,119.30 937.59,124.80 945.29,125.70C941.39,120.50 939.99,117.00 939.99,113.40C939.99,109.80 941.39,106.30 945.29,101.10Z" fill="#fdfdfd" stroke="#000" stroke-width="1.8" stroke-linejoin="round"/></g>
<g><path d="M977.03,101.10C969.33,102.00 963.18,107.50 963.18,113.40C963.18,119.30 969.33,124.80 977.03,125.70C973.13,120.50 971.73,117.00 971.73,113.40C971.73,109.80 973.13,106.30 977.03,101.10Z" fill="#fdfdfd" stroke="#000" stroke-width="1.8" stroke-linejoin="round"/><path d="M971.72,124.09L972.78,124.24L973.72,124.83L974.68,125.05L975.64,124.95L976.61,124.52L976.89,124.47L977.16,124.52L978.11,124.95L978.87,125.05L979.66,124.95L980.62,124.57L981.65,124.68L982.46,124.57L983.01,124.36L983.51,124.04L983.94,123.64L984.28,123.16L984.53,122.62L984.66,122.04L984.68,121.45L984.58,120.86L984.37,120.31L984.05,119.81L983.64,119.38L983.16,119.04L982.24,118.69L981.65,118.64L980.75,118.71L980.35,118.49L980.14,118.09L980.07,117.30L979.82,116.58L979.40,115.96L978.83,115.45L978.30,115.17L977.75,115.00L977.00,114.95L976.41,115.05L975.56,115.44L974.86,116.09L974.47,116.75L974.23,117.76L973.98,118.13L973.72,118.27L973.42,118.30L972.72,118.14L972.11,118.12L971.17,118.34L970.65,118.61L970.19,118.99L969.82,119.44L969.53,119.96L969.35,120.55L969.31,121.34L969.46,122.11L969.82,122.82L970.34,123.41L970.97,123.83Z" fill="#d0d0d3" stroke="#2f5078" stroke-width="1.59" stroke-linejoin="round"/><path d="M980.53,118.86L980.00,119.20L979.57,119.63L979.23,120.14L979.02,120.70L978.93,121.27L978.96,121.85" fill="none" stroke="#2f5078" stroke-width="1.51" stroke-linecap="round" stroke-linejoin="round"/></g>
<g><path d="M1015.47,109.78L1020.52,106.16L1021.54,106.30L1022.26,107.50L1021.91,108.47L1016.34,111.24Z" fill="#f5e61e" stroke="#e6cf3a" stroke-width="0.7" stroke-linejoin="round"/><path d="M1016.79,114.23L1022.92,115.24L1023.54,116.07L1023.21,117.42L1022.27,117.86L1016.38,115.88Z" fill="#f5e61e" stroke="#e6cf3a" stroke-width="0.7" stroke-linejoin="round"/><path d="M1014.58,118.31L1018.20,123.36L1018.06,124.38L1016.86,125.10L1015.89,124.75L1013.12,119.18Z" fill="#f5e61e" stroke="#e6cf3a" stroke-width="0.7" stroke-linejoin="round"/><path d="M1010.13,119.63L1009.12,125.76L1008.29,126.38L1006.94,126.04L1006.50,125.11L1008.48,119.22Z" fill="#f5e61e" stroke="#e6cf3a" stroke-width="0.7" stroke-linejoin="round"/><path d="M1006.06,117.42L1001.00,121.04L999.98,120.90L999.26,119.70L999.61,118.73L1005.18,115.96Z" fill="#f5e61e" stroke="#e6cf3a" stroke-width="0.7" stroke-linejoin="round"/><path d="M1004.73,112.97L998.60,111.96L997.98,111.13L998.32,109.78L999.25,109.34L1005.14,111.32Z" fill="#f5e61e" stroke="#e6cf3a" stroke-width="0.7" stroke-linejoin="round"/><path d="M1006.94,108.89L1003.32,103.84L1003.47,102.82L1004.67,102.10L1005.63,102.45L1008.40,108.02Z" fill="#f5e61e" stroke="#e6cf3a" stroke-width="0.7" stroke-linejoin="round"/><path d="M1011.39,107.57L1012.40,101.44L1013.23,100.82L1014.58,101.16L1015.02,102.09L1013.04,107.98Z" fill="#f5e61e" stroke="#e6cf3a" stroke-width="0.7" stroke-linejoin="round"/><circle cx="1010.76" cy="113.60" r="6.5" fill="#f5e61e" stroke="#f7a928" stroke-width="0.9"/><path d="M995.48,126.41L997.05,126.68L997.80,127.21L998.32,127.47L999.08,127.70L999.66,127.77L1000.45,127.75L1000.99,127.64L1002.20,127.12L1002.57,127.05L1002.95,127.12L1004.13,127.64L1005.19,127.78L1006.29,127.64L1007.57,127.14L1008.89,127.27L1009.98,127.12L1010.75,126.82L1011.45,126.39L1012.05,125.82L1012.52,125.15L1012.86,124.39L1013.05,123.59L1013.07,122.77L1012.93,121.95L1012.64,121.18L1012.20,120.48L1011.66,119.90L1010.99,119.42L1010.47,119.16L1009.71,118.93L1008.89,118.85L1007.88,118.88L1007.38,118.61L1007.10,118.11L1006.99,117.11L1006.66,116.13L1006.07,115.23L1005.45,114.66L1004.55,114.14L1003.75,113.90L1002.72,113.83L1001.89,113.96L1001.17,114.24L1000.67,114.52L1000.08,115.01L999.72,115.41L999.18,116.34L998.85,117.60L998.54,118.06L998.21,118.25L997.84,118.30L996.85,118.14L996.02,118.16L994.93,118.46L994.20,118.85L993.59,119.35L993.06,119.99L992.67,120.71L992.38,121.77L992.36,122.63L992.56,123.68L993.05,124.66L993.77,125.49L994.47,125.99Z" fill="#d0d0d3" stroke="#2a5db5" stroke-width="1.80" stroke-linejoin="round"/><path d="M1007.29,119.15L1006.56,119.63L1005.95,120.23L1005.49,120.94L1005.19,121.72L1005.06,122.52L1005.10,123.32" fill="none" stroke="#2a5db5" stroke-width="1.71" stroke-linecap="round" stroke-linejoin="round"/></g>
<g><path d="M1050.00,109.78L1055.06,106.16L1056.08,106.30L1056.80,107.50L1056.45,108.47L1050.88,111.24Z" fill="#f5e61e" stroke="#e6cf3a" stroke-width="0.7" stroke-linejoin="round"/><path d="M1051.32,114.23L1057.46,115.24L1058.08,116.07L1057.74,117.42L1056.81,117.86L1050.91,115.88Z" fill="#f5e61e" stroke="#e6cf3a" stroke-width="0.7" stroke-linejoin="round"/><path d="M1049.12,118.31L1052.74,123.36L1052.59,124.38L1051.39,125.10L1050.42,124.75L1047.66,119.18Z" fill="#f5e61e" stroke="#e6cf3a" stroke-width="0.7" stroke-linejoin="round"/><path d="M1044.67,119.63L1043.65,125.76L1042.83,126.38L1041.47,126.04L1041.04,125.11L1043.02,119.22Z" fill="#f5e61e" stroke="#e6cf3a" stroke-width="0.7" stroke-linejoin="round"/><path d="M1040.59,117.42L1035.53,121.04L1034.51,120.90L1033.79,119.70L1034.14,118.73L1039.72,115.96Z" fill="#f5e61e" stroke="#e6cf3a" stroke-width="0.7" stroke-linejoin="round"/><path d="M1039.27,112.97L1033.13,111.96L1032.51,111.13L1032.85,109.78L1033.79,109.34L1039.68,111.32Z" fill="#f5e61e" stroke="#e6cf3a" stroke-width="0.7" stroke-linejoin="round"/><path d="M1041.48,108.89L1037.86,103.84L1038.00,102.82L1039.20,102.10L1040.17,102.45L1042.93,108.02Z" fill="#f5e61e" stroke="#e6cf3a" stroke-width="0.7" stroke-linejoin="round"/><path d="M1045.92,107.57L1046.94,101.44L1047.76,100.82L1049.12,101.16L1049.56,102.09L1047.57,107.98Z" fill="#f5e61e" stroke="#e6cf3a" stroke-width="0.7" stroke-linejoin="round"/><circle cx="1045.30" cy="113.60" r="6.5" fill="#f5e61e" stroke="#f7a928" stroke-width="0.9"/><path d="M1030.02,126.41L1031.58,126.68L1032.33,127.21L1032.85,127.47L1033.61,127.70L1034.19,127.77L1034.98,127.75L1035.52,127.64L1036.74,127.12L1037.11,127.05L1037.48,127.12L1038.66,127.64L1039.73,127.78L1040.82,127.64L1042.10,127.14L1043.42,127.27L1044.51,127.12L1045.28,126.82L1045.98,126.39L1046.58,125.82L1047.06,125.15L1047.40,124.39L1047.58,123.59L1047.61,122.77L1047.47,121.95L1047.17,121.18L1046.74,120.48L1046.17,119.88L1045.53,119.42L1045.00,119.16L1044.24,118.93L1043.42,118.85L1042.41,118.88L1041.91,118.61L1041.64,118.11L1041.53,117.11L1041.19,116.13L1040.75,115.41L1039.99,114.66L1039.09,114.14L1038.29,113.90L1037.25,113.83L1036.42,113.96L1035.70,114.24L1035.24,114.50L1034.78,114.85L1034.26,115.41L1033.72,116.34L1033.39,117.60L1033.07,118.06L1032.74,118.25L1032.37,118.30L1031.38,118.14L1030.56,118.16L1029.46,118.46L1028.74,118.85L1028.10,119.37L1027.60,119.99L1027.21,120.71L1026.92,121.77L1026.89,122.63L1027.10,123.68L1027.58,124.66L1028.13,125.33L1029.00,125.99Z" fill="#d0d0d3" stroke="#2a5db5" stroke-width="1.80" stroke-linejoin="round"/><path d="M1041.83,119.15L1041.09,119.63L1040.48,120.23L1040.02,120.94L1039.72,121.72L1039.60,122.52L1039.64,123.32" fill="none" stroke="#2a5db5" stroke-width="1.71" stroke-linecap="round" stroke-linejoin="round"/></g>
<g><path d="M1071.67,114.60L1070.77,113.46L1069.87,112.71L1068.83,112.16L1067.70,111.82L1066.53,111.70L1065.36,111.82L1064.24,112.16L1063.20,112.71L1062.29,113.46L1061.54,114.37L1060.99,115.40L1060.65,116.53L1060.53,117.70L1060.65,118.87L1060.99,120.00L1061.54,121.03L1062.29,121.94L1063.20,122.69L1064.24,123.24L1064.98,123.50L1065.75,123.65L1066.53,123.70L1067.70,123.58L1069.15,123.10L1069.83,123.06L1070.71,122.86L1071.79,122.32L1072.69,121.53L1073.36,120.53L1073.74,119.40L1073.82,118.20L1073.59,117.02L1073.22,116.20L1072.69,115.47Z" fill="#d0d0d3" stroke="#2f5078" stroke-width="1.80" stroke-linejoin="round"/><path d="M1093.52,114.75L1093.25,113.40L1092.82,112.45L1092.22,111.61L1091.18,110.69L1089.94,110.08L1088.92,109.85L1087.89,109.81L1086.86,109.98L1085.89,110.35L1085.29,110.69L1084.48,111.35L1083.88,112.08L1082.98,112.43L1082.40,112.76L1081.87,113.17L1081.19,113.90L1080.66,114.74L1080.23,116.01L1080.14,117.33L1080.31,118.32L1080.66,119.26L1081.19,120.10L1081.87,120.83L1082.68,121.42L1083.59,121.83L1084.57,122.06L1085.57,122.09L1086.55,121.93L1087.49,121.57L1088.07,121.24L1089.10,120.33L1089.94,120.12L1090.88,119.69L1091.98,118.85L1092.64,118.04L1093.25,116.80L1093.49,115.79Z" fill="#d0d0d3" stroke="#2f5078" stroke-width="1.80" stroke-linejoin="round"/><path d="M1082.52,110.31L1082.33,109.15L1081.91,108.05L1081.29,107.05L1080.49,106.19L1079.53,105.50L1078.46,105.02L1077.32,104.75L1076.14,104.71L1074.98,104.90L1073.88,105.32L1072.88,105.94L1072.02,106.74L1071.34,107.70L1070.85,108.77L1070.58,109.92L1070.54,111.09L1070.74,112.25L1070.99,113.00L1071.34,113.70L1071.77,114.35L1072.29,114.94L1073.31,115.76L1073.75,116.80L1074.27,117.53L1074.93,118.15L1075.97,118.75L1076.83,119.01L1078.03,119.09L1079.21,118.86L1080.29,118.32L1081.19,117.53L1081.86,116.53L1082.09,115.98L1082.29,115.10L1082.29,113.90L1082.08,112.99L1082.33,112.25L1082.48,111.48Z" fill="#d0d0d3" stroke="#2f5078" stroke-width="1.80" stroke-linejoin="round"/><path d="M1074.44,124.55L1074.97,124.67L1075.66,125.15L1076.18,125.41L1076.94,125.64L1077.51,125.71L1078.06,125.71L1078.84,125.58L1079.39,125.40L1080.18,124.98L1080.55,124.91L1080.92,124.98L1081.71,125.40L1082.22,125.57L1083.28,125.72L1084.37,125.57L1085.66,125.07L1087.10,125.23L1088.22,125.09L1088.99,124.79L1089.68,124.36L1090.28,123.79L1090.76,123.12L1091.09,122.37L1091.28,121.57L1091.30,120.75L1091.16,119.94L1090.87,119.17L1090.43,118.48L1089.87,117.88L1089.20,117.41L1088.48,117.08L1087.92,116.93L1087.10,116.85L1085.89,116.95L1085.36,116.69L1085.07,116.17L1084.90,115.10L1084.51,114.14L1084.02,113.46L1083.24,112.78L1082.54,112.40L1081.74,112.16L1080.71,112.09L1079.88,112.23L1079.38,112.40L1078.70,112.76L1077.87,113.49L1077.28,114.38L1077.01,115.10L1076.86,115.77L1076.52,116.23L1076.18,116.40L1075.80,116.43L1074.83,116.21L1073.97,116.18L1073.19,116.31L1072.68,116.48L1071.95,116.87L1071.31,117.39L1070.79,118.02L1070.40,118.74L1070.11,119.80L1070.11,120.89L1070.39,121.95L1070.79,122.70L1071.49,123.50L1072.39,124.11L1073.43,124.47Z" fill="#fdfdfd" stroke="#2f5078" stroke-width="1.80" stroke-linejoin="round"/><path d="M1085.55,117.16L1084.82,117.63L1084.21,118.23L1083.75,118.94L1083.45,119.71L1083.32,120.51L1083.37,121.31" fill="none" stroke="#2f5078" stroke-width="1.71" stroke-linecap="round" stroke-linejoin="round"/></g>
<path d="M128.74,165.08L125.26,140.92M125.26,140.92L134.47,136.13" fill="none" stroke="#000" stroke-width="1.8" stroke-linecap="butt" stroke-linejoin="miter"/>
<path d="M145.23,140.84L143.31,165.16M143.62,161.17L138.55,163.23" fill="none" stroke="#000" stroke-width="1.8" stroke-linecap="butt" stroke-linejoin="miter"/>
<path d="M172.50,147.65L150.57,158.35M154.17,156.59L149.82,153.26" fill="none" stroke="#000" stroke-width="1.8" stroke-linecap="butt" stroke-linejoin="miter"/>
<path d="M190.71,150.36L166.89,155.64M170.80,154.77L167.35,150.52" fill="none" stroke="#000" stroke-width="1.8" stroke-linecap="butt" stroke-linejoin="miter"/>
<path d="M203.73,143.51L188.41,162.49M190.92,159.38L185.57,158.21" fill="none" stroke="#000" stroke-width="1.8" stroke-linecap="butt" stroke-linejoin="miter"/>
<path d="M211.22,165.01L215.46,140.99M214.76,144.92L220.01,143.36" fill="none" stroke="#000" stroke-width="1.8" stroke-linecap="butt" stroke-linejoin="miter"/>
<path d="M220.04,159.10L241.17,146.90M237.71,148.90L242.28,151.92" fill="none" stroke="#000" stroke-width="1.8" stroke-linecap="butt" stroke-linejoin="miter"/>
<circle cx="247.88" cy="153.0" r="3.7" fill="none" stroke="#000" stroke-width="1.7"/>
<circle cx="265.14" cy="153.0" r="3.7" fill="none" stroke="#000" stroke-width="1.7"/>
<circle cx="282.41" cy="153.0" r="3.7" fill="none" stroke="#000" stroke-width="1.7"/>
<circle cx="299.68" cy="153.0" r="3.7" fill="none" stroke="#000" stroke-width="1.7"/>
<circle cx="316.95" cy="153.0" r="3.7" fill="none" stroke="#000" stroke-width="1.7"/>
<path d="M343.49,145.08L324.94,160.92M327.98,158.33L322.94,156.19" fill="none" stroke="#000" stroke-width="1.8" stroke-linecap="butt" stroke-linejoin="miter"/>
<path d="M355.21,141.38L347.75,164.62M348.98,160.81L343.56,161.64" fill="none" stroke="#000" stroke-width="1.8" stroke-linecap="butt" stroke-linejoin="miter"/>
<path d="M377.48,144.48L360.02,161.52M362.88,158.73L357.71,156.93" fill="none" stroke="#000" stroke-width="1.8" stroke-linecap="butt" stroke-linejoin="miter"/>
<path d="M394.45,144.18L377.59,161.82M380.35,158.93L375.12,157.31" fill="none" stroke="#000" stroke-width="1.8" stroke-linecap="butt" stroke-linejoin="miter"/>
<circle cx="403.29" cy="153.0" r="3.7" fill="none" stroke="#000" stroke-width="1.7"/>
<circle cx="420.56" cy="153.0" r="3.7" fill="none" stroke="#000" stroke-width="1.7"/>
<circle cx="437.82" cy="153.0" r="3.7" fill="none" stroke="#000" stroke-width="1.7"/>
<circle cx="455.09" cy="153.0" r="3.7" fill="none" stroke="#000" stroke-width="1.7"/>
<path d="M461.59,158.73L483.13,147.27M479.60,149.15L484.06,152.33" fill="none" stroke="#000" stroke-width="1.8" stroke-linecap="butt" stroke-linejoin="miter"/>
<path d="M478.14,157.11L501.11,148.89M497.35,150.24L501.31,154.02" fill="none" stroke="#000" stroke-width="1.8" stroke-linecap="butt" stroke-linejoin="miter"/>
<path d="M501.30,163.84L512.49,142.16M510.66,145.71L516.13,145.78" fill="none" stroke="#000" stroke-width="1.8" stroke-linecap="butt" stroke-linejoin="miter"/>
<path d="M522.61,165.10L525.71,140.90M525.21,144.87L530.38,143.06" fill="none" stroke="#000" stroke-width="1.8" stroke-linecap="butt" stroke-linejoin="miter"/>
<path d="M532.60,161.41L550.27,144.59M547.37,147.35L552.52,149.20" fill="none" stroke="#000" stroke-width="1.8" stroke-linecap="butt" stroke-linejoin="miter"/>
<path d="M570.57,155.83L546.83,150.17M550.72,151.10L549.48,145.77" fill="none" stroke="#000" stroke-width="1.8" stroke-linecap="butt" stroke-linejoin="miter"/>
<path d="M586.93,158.35L565.00,147.65M568.60,149.41L568.54,143.93" fill="none" stroke="#000" stroke-width="1.8" stroke-linecap="butt" stroke-linejoin="miter"/>
<path d="M601.77,144.28L584.70,161.72M587.50,158.86L582.28,157.18" fill="none" stroke="#000" stroke-width="1.8" stroke-linecap="butt" stroke-linejoin="miter"/>
<path d="M614.42,141.44L606.59,164.56M607.87,160.77L602.45,161.52" fill="none" stroke="#000" stroke-width="1.8" stroke-linecap="butt" stroke-linejoin="miter"/>
<path d="M633.18,142.06L622.37,163.94M624.14,160.35L618.66,160.38" fill="none" stroke="#000" stroke-width="1.8" stroke-linecap="butt" stroke-linejoin="miter"/>
<path d="M654.80,145.67L635.28,160.33M638.48,157.92L633.58,155.48" fill="none" stroke="#000" stroke-width="1.8" stroke-linecap="butt" stroke-linejoin="miter"/>
<path d="M673.14,147.39L651.48,158.61M655.03,156.77L650.60,153.55" fill="none" stroke="#000" stroke-width="1.8" stroke-linecap="butt" stroke-linejoin="miter"/>
<path d="M690.54,147.65L668.61,158.35M672.21,156.59L667.86,153.26" fill="none" stroke="#000" stroke-width="1.8" stroke-linecap="butt" stroke-linejoin="miter"/>
<path d="M709.00,151.92L684.69,154.08M688.68,153.73L685.80,149.07" fill="none" stroke="#000" stroke-width="1.8" stroke-linecap="butt" stroke-linejoin="miter"/>
<path d="M722.40,161.95L705.82,144.05M708.54,146.98L710.47,141.86" fill="none" stroke="#000" stroke-width="1.8" stroke-linecap="butt" stroke-linejoin="miter"/>
<circle cx="731.38" cy="153.0" r="3.7" fill="none" stroke="#000" stroke-width="1.7"/>
<path d="M760.84,153.49L736.46,152.51M740.45,152.67L738.20,147.68" fill="none" stroke="#000" stroke-width="1.8" stroke-linecap="butt" stroke-linejoin="miter"/>
<path d="M774.66,161.51L757.17,144.49M760.04,147.28L761.70,142.06" fill="none" stroke="#000" stroke-width="1.8" stroke-linecap="butt" stroke-linejoin="miter"/>
<circle cx="783.18" cy="153.0" r="3.7" fill="none" stroke="#000" stroke-width="1.7"/>
<circle cx="800.45" cy="153.0" r="3.7" fill="none" stroke="#000" stroke-width="1.7"/>
<circle cx="817.72" cy="153.0" r="3.7" fill="none" stroke="#000" stroke-width="1.7"/>
<circle cx="834.99" cy="153.0" r="3.7" fill="none" stroke="#000" stroke-width="1.7"/>
<circle cx="852.26" cy="153.0" r="3.7" fill="none" stroke="#000" stroke-width="1.7"/>
<circle cx="869.52" cy="153.0" r="3.7" fill="none" stroke="#000" stroke-width="1.7"/>
<path d="M888.62,140.94L884.97,165.06M885.57,161.11L880.35,162.80" fill="none" stroke="#000" stroke-width="1.8" stroke-linecap="butt" stroke-linejoin="miter"/>
<path d="M907.95,141.44L900.17,164.56M901.44,160.77L896.02,161.53" fill="none" stroke="#000" stroke-width="1.8" stroke-linecap="butt" stroke-linejoin="miter"/>
<path d="M928.77,143.33L913.88,162.67M916.32,159.50L910.95,158.45" fill="none" stroke="#000" stroke-width="1.8" stroke-linecap="butt" stroke-linejoin="miter"/>
<path d="M947.83,145.03L929.36,160.97M932.39,158.36L927.33,156.25" fill="none" stroke="#000" stroke-width="1.8" stroke-linecap="butt" stroke-linejoin="miter"/>
<path d="M964.11,144.01L947.62,161.99M950.32,159.05L945.06,157.54" fill="none" stroke="#000" stroke-width="1.8" stroke-linecap="butt" stroke-linejoin="miter"/>
<path d="M980.20,143.06L966.06,162.94M968.38,159.68L962.97,158.84" fill="none" stroke="#000" stroke-width="1.8" stroke-linecap="butt" stroke-linejoin="miter"/>
<path d="M999.28,144.63L981.52,161.37M984.43,158.62L979.29,156.74" fill="none" stroke="#000" stroke-width="1.8" stroke-linecap="butt" stroke-linejoin="miter"/>
<path d="M1016.78,144.88L998.56,161.12M1001.55,158.45L996.46,156.43" fill="none" stroke="#000" stroke-width="1.8" stroke-linecap="butt" stroke-linejoin="miter"/>
<path d="M1034.73,145.73L1015.14,160.27M1018.35,157.89L1013.46,155.42" fill="none" stroke="#000" stroke-width="1.8" stroke-linecap="butt" stroke-linejoin="miter"/>
<path d="M1051.52,145.13L1032.89,160.87M1035.94,158.29L1030.91,156.13" fill="none" stroke="#000" stroke-width="1.8" stroke-linecap="butt" stroke-linejoin="miter"/>
<path d="M1067.00,143.40L1051.94,162.60M1054.41,159.45L1049.04,158.36" fill="none" stroke="#000" stroke-width="1.8" stroke-linecap="butt" stroke-linejoin="miter"/>
<path d="M1082.77,142.39L1070.71,163.61M1072.69,160.13L1067.22,159.84" fill="none" stroke="#000" stroke-width="1.8" stroke-linecap="butt" stroke-linejoin="miter"/>
<path d="M1099.30,142.01L1088.72,163.99M1090.45,160.39L1084.97,160.47" fill="none" stroke="#000" stroke-width="1.8" stroke-linecap="butt" stroke-linejoin="miter"/>
<line x1="220" x2="220" y1="97.5" y2="359.5" stroke="#000" stroke-width="1.6" stroke-dasharray="5.6,2.3" stroke-dashoffset="5.8"/>
<line x1="144.50" x2="144.50" y1="359.5" y2="354.4" stroke="#000" stroke-opacity="0.85" stroke-width="0.9"/>
<line x1="179.50" x2="179.50" y1="359.5" y2="354.4" stroke="#000" stroke-opacity="0.85" stroke-width="0.9"/>
<line x1="213.50" x2="213.50" y1="359.5" y2="354.4" stroke="#000" stroke-opacity="0.85" stroke-width="0.9"/>
<line x1="248.50" x2="248.50" y1="359.5" y2="354.4" stroke="#000" stroke-opacity="0.85" stroke-width="0.9"/>
<line x1="282.50" x2="282.50" y1="359.5" y2="354.4" stroke="#000" stroke-opacity="0.85" stroke-width="0.9"/>
<line x1="317.50" x2="317.50" y1="359.5" y2="354.4" stroke="#000" stroke-opacity="0.85" stroke-width="0.9"/>
<line x1="351.50" x2="351.50" y1="359.5" y2="354.4" stroke="#000" stroke-opacity="0.85" stroke-width="0.9"/>
<line x1="386.50" x2="386.50" y1="359.5" y2="354.4" stroke="#000" stroke-opacity="0.85" stroke-width="0.9"/>
<line x1="421.50" x2="421.50" y1="359.5" y2="354.4" stroke="#000" stroke-opacity="0.85" stroke-width="0.9"/>
<line x1="455.50" x2="455.50" y1="359.5" y2="354.4" stroke="#000" stroke-opacity="0.85" stroke-width="0.9"/>
<line x1="490.50" x2="490.50" y1="359.5" y2="354.4" stroke="#000" stroke-opacity="0.85" stroke-width="0.9"/>
<line x1="524.50" x2="524.50" y1="359.5" y2="354.4" stroke="#000" stroke-opacity="0.85" stroke-width="0.9"/>
<line x1="559.50" x2="559.50" y1="359.5" y2="354.4" stroke="#000" stroke-opacity="0.85" stroke-width="0.9"/>
<line x1="593.50" x2="593.50" y1="359.5" y2="354.4" stroke="#000" stroke-opacity="0.85" stroke-width="0.9"/>
<line x1="628.50" x2="628.50" y1="359.5" y2="354.4" stroke="#000" stroke-opacity="0.85" stroke-width="0.9"/>
<line x1="662.50" x2="662.50" y1="359.5" y2="354.4" stroke="#000" stroke-opacity="0.85" stroke-width="0.9"/>
<line x1="697.50" x2="697.50" y1="359.5" y2="354.4" stroke="#000" stroke-opacity="0.85" stroke-width="0.9"/>
<line x1="731.50" x2="731.50" y1="359.5" y2="354.4" stroke="#000" stroke-opacity="0.85" stroke-width="0.9"/>
<line x1="766.50" x2="766.50" y1="359.5" y2="354.4" stroke="#000" stroke-opacity="0.85" stroke-width="0.9"/>
<line x1="800.50" x2="800.50" y1="359.5" y2="354.4" stroke="#000" stroke-opacity="0.85" stroke-width="0.9"/>
<line x1="835.50" x2="835.50" y1="359.5" y2="354.4" stroke="#000" stroke-opacity="0.85" stroke-width="0.9"/>
<line x1="870.50" x2="870.50" y1="359.5" y2="354.4" stroke="#000" stroke-opacity="0.85" stroke-width="0.9"/>
<line x1="904.50" x2="904.50" y1="359.5" y2="354.4" stroke="#000" stroke-opacity="0.85" stroke-width="0.9"/>
<line x1="939.50" x2="939.50" y1="359.5" y2="354.4" stroke="#000" stroke-opacity="0.85" stroke-width="0.9"/>
<line x1="973.50" x2="973.50" y1="359.5" y2="354.4" stroke="#000" stroke-opacity="0.85" stroke-width="0.9"/>
<line x1="1008.50" x2="1008.50" y1="359.5" y2="354.4" stroke="#000" stroke-opacity="0.85" stroke-width="0.9"/>
<line x1="1042.50" x2="1042.50" y1="359.5" y2="354.4" stroke="#000" stroke-opacity="0.85" stroke-width="0.9"/>
<line x1="1077.50" x2="1077.50" y1="359.5" y2="354.4" stroke="#000" stroke-opacity="0.85" stroke-width="0.9"/>
<rect x="128.00" y="290.6" width="1.10" height="68.90" fill="#0050ff"/>
<rect x="131.00" y="265.9" width="3.00" height="93.60" fill="#0050ff"/>
<rect x="136.00" y="354" width="4.00" height="5.50" fill="#0050ff"/>
<rect x="142.00" y="355" width="4.00" height="4.50" fill="#0050ff"/>
<rect x="148.00" y="357" width="4.00" height="2.50" fill="#0050ff"/>
<rect x="165.00" y="358" width="4.00" height="1.50" fill="#0050ff"/>
<rect x="205.00" y="280.9" width="4.00" height="78.60" fill="#0050ff"/>
<rect x="211.00" y="343" width="4.00" height="16.50" fill="#0050ff"/>
<rect x="217.00" y="348" width="4.00" height="11.50" fill="#0050ff"/>
<rect x="223.00" y="333" width="4.00" height="26.50" fill="#0050ff"/>
<rect x="229.00" y="345" width="4.00" height="14.50" fill="#0050ff"/>
<rect x="234.00" y="351" width="4.00" height="8.50" fill="#0050ff"/>
<rect x="240.00" y="356" width="4.00" height="3.50" fill="#0050ff"/>
<rect x="401.00" y="349" width="4.00" height="10.50" fill="#0050ff"/>
<rect x="407.00" y="357.1" width="4.00" height="2.40" fill="#0050ff"/>
<rect x="470.00" y="354" width="4.00" height="5.50" fill="#0050ff"/>
<rect x="476.00" y="350" width="4.00" height="9.50" fill="#0050ff"/>
<rect x="476.00" y="356" width="4.00" height="3.50" fill="#10dbc8"/>
<rect x="482.00" y="345" width="4.00" height="14.50" fill="#0050ff"/>
<rect x="482.00" y="356" width="4.00" height="3.50" fill="#10dbc8"/>
<rect x="488.00" y="349" width="4.00" height="10.50" fill="#0050ff"/>
<rect x="488.00" y="356" width="4.00" height="3.50" fill="#10dbc8"/>
<rect x="493.00" y="354" width="4.00" height="5.50" fill="#0050ff"/>
<rect x="493.00" y="355.3" width="4.00" height="4.20" fill="#10dbc8"/>
<rect x="499.00" y="338" width="4.00" height="21.50" fill="#0050ff"/>
<rect x="499.00" y="356.5" width="4.00" height="3.00" fill="#10dbc8"/>
<rect x="505.00" y="344" width="4.00" height="15.50" fill="#0050ff"/>
<rect x="511.00" y="353" width="4.00" height="6.50" fill="#0050ff"/>
<rect x="516.00" y="355" width="4.00" height="4.50" fill="#0050ff"/>
<rect x="522.00" y="346" width="4.00" height="13.50" fill="#0050ff"/>
<rect x="528.00" y="353" width="4.00" height="6.50" fill="#0050ff"/>
<rect x="677.00" y="354" width="4.00" height="5.50" fill="#0050ff"/>
<rect x="683.00" y="355" width="4.00" height="4.50" fill="#0050ff"/>
<rect x="689.00" y="355" width="4.00" height="4.50" fill="#0050ff"/>
<line x1="162.50" x2="162.50" y1="359.5" y2="349.7" stroke="#000" stroke-opacity="0.85" stroke-width="0.9"/>
<line x1="196.50" x2="196.50" y1="359.5" y2="349.7" stroke="#000" stroke-opacity="0.85" stroke-width="0.9"/>
<line x1="231.50" x2="231.50" y1="359.5" y2="349.7" stroke="#000" stroke-opacity="0.85" stroke-width="0.9"/>
<line x1="300.50" x2="300.50" y1="359.5" y2="349.7" stroke="#000" stroke-opacity="0.85" stroke-width="0.9"/>
<line x1="334.50" x2="334.50" y1="359.5" y2="349.7" stroke="#000" stroke-opacity="0.85" stroke-width="0.9"/>
<line x1="369.50" x2="369.50" y1="359.5" y2="349.7" stroke="#000" stroke-opacity="0.85" stroke-width="0.9"/>
<line x1="438.50" x2="438.50" y1="359.5" y2="349.7" stroke="#000" stroke-opacity="0.85" stroke-width="0.9"/>
<line x1="472.50" x2="472.50" y1="359.5" y2="349.7" stroke="#000" stroke-opacity="0.85" stroke-width="0.9"/>
<line x1="507.50" x2="507.50" y1="359.5" y2="349.7" stroke="#000" stroke-opacity="0.85" stroke-width="0.9"/>
<line x1="576.50" x2="576.50" y1="359.5" y2="349.7" stroke="#000" stroke-opacity="0.85" stroke-width="0.9"/>
<line x1="611.50" x2="611.50" y1="359.5" y2="349.7" stroke="#000" stroke-opacity="0.85" stroke-width="0.9"/>
<line x1="645.50" x2="645.50" y1="359.5" y2="349.7" stroke="#000" stroke-opacity="0.85" stroke-width="0.9"/>
<line x1="714.50" x2="714.50" y1="359.5" y2="349.7" stroke="#000" stroke-opacity="0.85" stroke-width="0.9"/>
<line x1="749.50" x2="749.50" y1="359.5" y2="349.7" stroke="#000" stroke-opacity="0.85" stroke-width="0.9"/>
<line x1="783.50" x2="783.50" y1="359.5" y2="349.7" stroke="#000" stroke-opacity="0.85" stroke-width="0.9"/>
<line x1="852.50" x2="852.50" y1="359.5" y2="349.7" stroke="#000" stroke-opacity="0.85" stroke-width="0.9"/>
<line x1="887.50" x2="887.50" y1="359.5" y2="349.7" stroke="#000" stroke-opacity="0.85" stroke-width="0.9"/>
<line x1="921.50" x2="921.50" y1="359.5" y2="349.7" stroke="#000" stroke-opacity="0.85" stroke-width="0.9"/>
<line x1="990.50" x2="990.50" y1="359.5" y2="349.7" stroke="#000" stroke-opacity="0.85" stroke-width="0.9"/>
<line x1="1025.50" x2="1025.50" y1="359.5" y2="349.7" stroke="#000" stroke-opacity="0.85" stroke-width="0.9"/>
<line x1="1059.50" x2="1059.50" y1="359.5" y2="349.7" stroke="#000" stroke-opacity="0.85" stroke-width="0.9"/>
<polyline fill="none" stroke="#ff0000" stroke-width="3.1" stroke-linejoin="round" stroke-linecap="butt" points="127.5,271.5 135,279 142.6,284 149.6,287 157.6,286.5 166.4,286.5 172.6,284 178.9,279 185.7,267.7 192.7,250.1 197.7,236.3 201.5,228.8 205.2,235 209,243.9 212.7,251.4 219,255.9 225.3,265.2 232.8,275.2 241.6,285.2 250.3,289.7 257.8,292.2 265.4,294 280.4,294.2 293,294.2 299.2,295.7 311.7,293.7 319.3,289 325.5,282.7 333,271.4 340.6,256.4 345.6,246.4 350.6,241.8 356.8,240.8 361.9,243.8 368.1,251.4 374.4,261.4 380.7,268.9 389.4,273.2 398.2,276.4 413.8,278.1 422.6,282.1 431.3,285.9 437.6,287.7 443.9,286.7 450.1,282.6 457.6,273.9 465.2,265.1 472.7,258.3 480.2,255.6 487.7,254.6 495.2,256.8 502.8,263.8 510.3,271.4 519,278.9 530.3,284.4 541.6,290.2 552.9,296.4 564.2,303.2 575.4,309.7 581.7,310.2 587.5,306.5 593,297.7 600.5,282.6 608,267.6 615.5,256.3 621.8,250.1 628.1,248.3 634.3,250.1 640.6,257.6 648.1,267.6 656.9,279.6 668.2,288.9 680.7,298.4 696,298.4 706.1,301.4 714.8,305.2 719.9,305.2 726.1,300.2 732.4,287.7 739.9,268.9 747.4,252.6 753.7,242.5 760,237.5 766.2,237.5 772.5,242 778.8,251.3 786.3,265.1 795,278.9 806.3,288.9 817.6,297.7 833.9,303.4 843.9,309.5 851.4,313.5 857.7,314 863.5,309.7 870.2,296.4 877.8,277.6 885.3,258.8 891.5,245.1 897.8,235.8 904.1,233.3 910.3,236.3 916.6,246.3 924.1,258.8 931.6,269.6 944.2,280.1 955.5,290.2 969.3,294 979.3,297.7 989.3,298.2 995.6,297 1001.8,290.2 1008.1,275.2 1014.4,256.4 1020.6,237.6 1026.4,223.8 1031.9,216.3 1036.9,212.5 1042.4,212.5 1048.2,216.3 1054.5,227.6 1062,240.1 1069.5,249.6 1077,253.9 1085.8,261.4 1094.5,268.5"/>
<text x="149.6" y="309.0" text-anchor="middle" style="font-family:'DejaVu Sans','Liberation Sans',sans-serif;font-size:17.6px" fill="#000">9</text>
<text x="201.5" y="251.4" text-anchor="middle" style="font-family:'DejaVu Sans','Liberation Sans',sans-serif;font-size:17.6px" fill="#000">16</text>
<text x="299.2" y="316.6" text-anchor="middle" style="font-family:'DejaVu Sans','Liberation Sans',sans-serif;font-size:17.6px" fill="#000">8</text>
<text x="356.8" y="262.2" text-anchor="middle" style="font-family:'DejaVu Sans','Liberation Sans',sans-serif;font-size:17.6px" fill="#000">15</text>
<text x="437.6" y="310.3" text-anchor="middle" style="font-family:'DejaVu Sans','Liberation Sans',sans-serif;font-size:17.6px" fill="#000">9</text>
<text x="483.5" y="276.4" text-anchor="middle" style="font-family:'DejaVu Sans','Liberation Sans',sans-serif;font-size:17.6px" fill="#000">13</text>
<text x="576.7" y="330.8" text-anchor="middle" style="font-family:'DejaVu Sans','Liberation Sans',sans-serif;font-size:17.6px" fill="#000">7</text>
<text x="627.6" y="270.1" text-anchor="middle" style="font-family:'DejaVu Sans','Liberation Sans',sans-serif;font-size:17.6px" fill="#000">14</text>
<text x="714.3" y="327.0" text-anchor="middle" style="font-family:'DejaVu Sans','Liberation Sans',sans-serif;font-size:17.6px" fill="#000">7</text>
<text x="766.2" y="258.9" text-anchor="middle" style="font-family:'DejaVu Sans','Liberation Sans',sans-serif;font-size:17.6px" fill="#000">15</text>
<text x="858.5" y="335.3" text-anchor="middle" style="font-family:'DejaVu Sans','Liberation Sans',sans-serif;font-size:17.6px" fill="#000">6</text>
<text x="904.3" y="255.6" text-anchor="middle" style="font-family:'DejaVu Sans','Liberation Sans',sans-serif;font-size:17.6px" fill="#000">16</text>
<text x="990.5" y="319.8" text-anchor="middle" style="font-family:'DejaVu Sans','Liberation Sans',sans-serif;font-size:17.6px" fill="#000">8</text>
<text x="1036.4" y="234.4" text-anchor="middle" style="font-family:'DejaVu Sans','Liberation Sans',sans-serif;font-size:17.6px" fill="#000">18</text>
<text x="1093.5" y="290.3" text-anchor="middle" style="font-family:'DejaVu Sans','Liberation Sans',sans-serif;font-size:17.6px" fill="#000">12</text>
<rect x="80" y="55" width="30" height="367.5" fill="#fff"/>
<path d="M77.2,178.2L80,175.6M77.6,234.4L80,237M80,350.2L78,350.6L77.6,352.5L77.8,356" fill="none" stroke="#000" stroke-width="1.1"/>
<rect x="78.8" y="188.70000000000002" width="1.2" height="1.2" fill="#222"/>
<rect x="78.8" y="192.1" width="1.2" height="1.2" fill="#222"/>
<rect x="78.8" y="269.59999999999997" width="1.2" height="1.2" fill="#222"/>
<rect x="78.8" y="276.29999999999995" width="1.2" height="1.2" fill="#222"/>
<rect x="78.8" y="295.5" width="1.2" height="1.2" fill="#222"/>
<rect x="78.8" y="300.0" width="1.2" height="1.2" fill="#222"/>
<rect x="78.8" y="317.0" width="1.2" height="1.2" fill="#222"/>
<rect x="127.5" y="97.5" width="967.0" height="262.0" fill="none" stroke="#000" stroke-width="1"/>
<text x="162.04" y="376.6" text-anchor="middle" style="font-family:'DejaVu Sans','Liberation Sans',sans-serif;font-size:17.6px" fill="#000">06</text>
<text x="196.57" y="376.6" text-anchor="middle" style="font-family:'DejaVu Sans','Liberation Sans',sans-serif;font-size:17.6px" fill="#000">12</text>
<text x="231.11" y="376.6" text-anchor="middle" style="font-family:'DejaVu Sans','Liberation Sans',sans-serif;font-size:17.6px" fill="#000">18</text>
<text x="265.64" y="376.6" text-anchor="middle" style="font-family:'DejaVu Sans','Liberation Sans',sans-serif;font-size:17.6px" fill="#000">sob</text>
<text x="300.18" y="376.6" text-anchor="middle" style="font-family:'DejaVu Sans','Liberation Sans',sans-serif;font-size:17.6px" fill="#000">06</text>
<text x="334.71" y="376.6" text-anchor="middle" style="font-family:'DejaVu Sans','Liberation Sans',sans-serif;font-size:17.6px" fill="#000">12</text>
<text x="369.25" y="376.6" text-anchor="middle" style="font-family:'DejaVu Sans','Liberation Sans',sans-serif;font-size:17.6px" fill="#000">18</text>
<text x="403.79" y="376.6" text-anchor="middle" style="font-family:'DejaVu Sans','Liberation Sans',sans-serif;font-size:17.6px" fill="#000">ned</text>
<text x="438.32" y="376.6" text-anchor="middle" style="font-family:'DejaVu Sans','Liberation Sans',sans-serif;font-size:17.6px" fill="#000">06</text>
<text x="472.86" y="376.6" text-anchor="middle" style="font-family:'DejaVu Sans','Liberation Sans',sans-serif;font-size:17.6px" fill="#000">12</text>
<text x="507.39" y="376.6" text-anchor="middle" style="font-family:'DejaVu Sans','Liberation Sans',sans-serif;font-size:17.6px" fill="#000">18</text>
<text x="541.93" y="376.6" text-anchor="middle" style="font-family:'DejaVu Sans','Liberation Sans',sans-serif;font-size:17.6px" fill="#000">pon</text>
<text x="576.46" y="376.6" text-anchor="middle" style="font-family:'DejaVu Sans','Liberation Sans',sans-serif;font-size:17.6px" fill="#000">06</text>
<text x="611.00" y="376.6" text-anchor="middle" style="font-family:'DejaVu Sans','Liberation Sans',sans-serif;font-size:17.6px" fill="#000">12</text>
<text x="645.54" y="376.6" text-anchor="middle" style="font-family:'DejaVu Sans','Liberation Sans',sans-serif;font-size:17.6px" fill="#000">18</text>
<text x="680.07" y="376.6" text-anchor="middle" style="font-family:'DejaVu Sans','Liberation Sans',sans-serif;font-size:17.6px" fill="#000">tor</text>
<text x="714.61" y="376.6" text-anchor="middle" style="font-family:'DejaVu Sans','Liberation Sans',sans-serif;font-size:17.6px" fill="#000">06</text>
<text x="749.14" y="376.6" text-anchor="middle" style="font-family:'DejaVu Sans','Liberation Sans',sans-serif;font-size:17.6px" fill="#000">12</text>
<text x="783.68" y="376.6" text-anchor="middle" style="font-family:'DejaVu Sans','Liberation Sans',sans-serif;font-size:17.6px" fill="#000">18</text>
<text x="818.21" y="376.6" text-anchor="middle" style="font-family:'DejaVu Sans','Liberation Sans',sans-serif;font-size:17.6px" fill="#000">sre</text>
<text x="852.75" y="376.6" text-anchor="middle" style="font-family:'DejaVu Sans','Liberation Sans',sans-serif;font-size:17.6px" fill="#000">06</text>
<text x="887.29" y="376.6" text-anchor="middle" style="font-family:'DejaVu Sans','Liberation Sans',sans-serif;font-size:17.6px" fill="#000">12</text>
<text x="921.82" y="376.6" text-anchor="middle" style="font-family:'DejaVu Sans','Liberation Sans',sans-serif;font-size:17.6px" fill="#000">18</text>
<text x="956.36" y="376.6" text-anchor="middle" style="font-family:'DejaVu Sans','Liberation Sans',sans-serif;font-size:17.6px" fill="#000">čet</text>
<text x="990.89" y="376.6" text-anchor="middle" style="font-family:'DejaVu Sans','Liberation Sans',sans-serif;font-size:17.6px" fill="#000">06</text>
<text x="1025.43" y="376.6" text-anchor="middle" style="font-family:'DejaVu Sans','Liberation Sans',sans-serif;font-size:17.6px" fill="#000">12</text>
<text x="1059.96" y="376.6" text-anchor="middle" style="font-family:'DejaVu Sans','Liberation Sans',sans-serif;font-size:17.6px" fill="#000">18</text>
<text x="122.6" y="179.4" text-anchor="end" style="font-family:'DejaVu Sans','Liberation Sans',sans-serif;font-size:17.6px" fill="#000">5</text>
<text x="122.6" y="216.4" text-anchor="end" style="font-family:'DejaVu Sans','Liberation Sans',sans-serif;font-size:17.6px" fill="#000">2</text>
<text x="122.6" y="254.4" text-anchor="end" style="font-family:'DejaVu Sans','Liberation Sans',sans-serif;font-size:17.6px" fill="#000">9</text>
<text x="122.6" y="291.4" text-anchor="end" style="font-family:'DejaVu Sans','Liberation Sans',sans-serif;font-size:17.6px" fill="#000">6</text>
<text x="122.6" y="328.4" text-anchor="end" style="font-family:'DejaVu Sans','Liberation Sans',sans-serif;font-size:17.6px" fill="#000">3</text>
<text x="122.6" y="366.4" text-anchor="end" style="font-family:'DejaVu Sans','Liberation Sans',sans-serif;font-size:17.6px" fill="#000">0</text>
<text x="46.3" y="179.4" text-anchor="start" style="font-family:'DejaVu Sans','Liberation Sans',sans-serif;font-size:17.6px" fill="#ff0000">23</text>
<text x="46.3" y="216.4" text-anchor="start" style="font-family:'DejaVu Sans','Liberation Sans',sans-serif;font-size:17.6px" fill="#ff0000">19</text>
<text x="46.3" y="254.4" text-anchor="start" style="font-family:'DejaVu Sans','Liberation Sans',sans-serif;font-size:17.6px" fill="#ff0000">14</text>
<text x="46.3" y="291.4" text-anchor="start" style="font-family:'DejaVu Sans','Liberation Sans',sans-serif;font-size:17.6px" fill="#ff0000">10</text>
<text x="46.3" y="328.4" text-anchor="start" style="font-family:'DejaVu Sans','Liberation Sans',sans-serif;font-size:17.6px" fill="#ff0000">5</text>
<text x="46.3" y="366.4" text-anchor="start" style="font-family:'DejaVu Sans','Liberation Sans',sans-serif;font-size:17.6px" fill="#ff0000">1</text>
<text x="1099.6" y="179.4" text-anchor="start" style="font-family:'DejaVu Sans','Liberation Sans',sans-serif;font-size:17.6px" fill="#000">14</text>
<text x="1099.6" y="215.2" text-anchor="start" style="font-family:'DejaVu Sans','Liberation Sans',sans-serif;font-size:17.6px" fill="#000">9.0</text>
<text x="1099.6" y="253.6" text-anchor="start" style="font-family:'DejaVu Sans','Liberation Sans',sans-serif;font-size:17.6px" fill="#000">6.0</text>
<text x="1099.6" y="290.8" text-anchor="start" style="font-family:'DejaVu Sans','Liberation Sans',sans-serif;font-size:17.6px" fill="#000">3.5</text>
<text x="1099.6" y="326.3" text-anchor="start" style="font-family:'DejaVu Sans','Liberation Sans',sans-serif;font-size:17.6px" fill="#000">1.5</text>
<text x="1099.6" y="365.6" text-anchor="start" style="font-family:'DejaVu Sans','Liberation Sans',sans-serif;font-size:17.6px" fill="#000">0</text>
<text x="196.57" y="69" text-anchor="middle" style="font-family:'DejaVu Sans','Liberation Sans',sans-serif;font-size:17.9px" fill="#000">petek</text>
<text x="196.07" y="90" text-anchor="middle" style="font-family:'DejaVu Sans','Liberation Sans',sans-serif;font-size:17.9px" fill="#000">24.10</text>
<text x="334.71" y="69" text-anchor="middle" style="font-family:'DejaVu Sans','Liberation Sans',sans-serif;font-size:17.9px" fill="#cc0000">sobota</text>
<text x="334.21" y="90" text-anchor="middle" style="font-family:'DejaVu Sans','Liberation Sans',sans-serif;font-size:17.9px" fill="#cc0000">25.10</text>
<text x="472.86" y="69" text-anchor="middle" style="font-family:'DejaVu Sans','Liberation Sans',sans-serif;font-size:17.9px" fill="#cc0000">nedelja</text>
<text x="472.36" y="90" text-anchor="middle" style="font-family:'DejaVu Sans','Liberation Sans',sans-serif;font-size:17.9px" fill="#cc0000">26.10</text>
<text x="611.00" y="69" text-anchor="middle" style="font-family:'DejaVu Sans','Liberation Sans',sans-serif;font-size:17.9px" fill="#000">ponedeljek</text>
<text x="610.50" y="90" text-anchor="middle" style="font-family:'DejaVu Sans','Liberation Sans',sans-serif;font-size:17.9px" fill="#000">27.10</text>
<text x="749.14" y="69" text-anchor="middle" style="font-family:'DejaVu Sans','Liberation Sans',sans-serif;font-size:17.9px" fill="#000">torek</text>
<text x="748.64" y="90" text-anchor="middle" style="font-family:'DejaVu Sans','Liberation Sans',sans-serif;font-size:17.9px" fill="#000">28.10</text>
<text x="887.29" y="69" text-anchor="middle" style="font-family:'DejaVu Sans','Liberation Sans',sans-serif;font-size:17.9px" fill="#000">sreda</text>
<text x="886.79" y="90" text-anchor="middle" style="font-family:'DejaVu Sans','Liberation Sans',sans-serif;font-size:17.9px" fill="#000">29.10</text>
<text x="1025.43" y="69" text-anchor="middle" style="font-family:'DejaVu Sans','Liberation Sans',sans-serif;font-size:17.9px" fill="#000">četrtek</text>
<text x="1024.93" y="90" text-anchor="middle" style="font-family:'DejaVu Sans','Liberation Sans',sans-serif;font-size:17.9px" fill="#000">30.10</text>
<rect x="127" y="390" width="32" height="11.3" fill="#0050ff"/>
<rect x="165" y="386" width="105" height="19.6" fill="#fff"/>
<text x="169.2" y="401.9" style="font-family:'Liberation Sans',Arial,Helvetica,sans-serif;font-size:19.3px" fill="#000">Dež</text>
<rect x="278" y="390" width="32" height="11.3" fill="#10dbc8"/>
<rect x="310" y="386" width="110" height="19.6" fill="#fff"/>
<text x="319.4" y="401.9" style="font-family:'Liberation Sans',Arial,Helvetica,sans-serif;font-size:19.3px" fill="#000">Možnost ploh</text>
<text x="499.8" y="401.8" style="font-family:'Liberation Sans',Arial,Helvetica,sans-serif;font-size:15.75px" fill="#0000ff">© vreme.us &amp; vreme.pro</text>
<rect x="759" y="385.6" width="181" height="19.6" fill="#fff"/>
<text x="760" y="401.9" style="font-family:'Liberation Sans',Arial,Helvetica,sans-serif;font-size:19.3px" fill="#000">Gostota oblakov (%)</text>
<rect x="949.00" y="385.2" width="29.46" height="13.2" fill="#cccccc"/>
<rect x="978.16" y="385.2" width="29.46" height="13.2" fill="#adadad"/>
<rect x="1007.32" y="385.2" width="29.46" height="13.2" fill="#8f8f8f"/>
<rect x="1036.48" y="385.2" width="29.46" height="13.2" fill="#737373"/>
<rect x="1065.64" y="385.2" width="29.16" height="13.2" fill="#555555"/>
<rect x="949.3" y="385.4" width="145.20" height="12.9" fill="none" stroke="#1a1a1a" stroke-width="0.9"/>
<text x="949.00" y="415.1" text-anchor="middle" style="font-family:'DejaVu Sans','Liberation Sans',sans-serif;font-size:15.4px" fill="#000">10</text>
<text x="978.16" y="415.1" text-anchor="middle" style="font-family:'DejaVu Sans','Liberation Sans',sans-serif;font-size:15.4px" fill="#000">25</text>
<text x="1007.32" y="415.1" text-anchor="middle" style="font-family:'DejaVu Sans','Liberation Sans',sans-serif;font-size:15.4px" fill="#000">50</text>
<text x="1036.48" y="415.1" text-anchor="middle" style="font-family:'DejaVu Sans','Liberation Sans',sans-serif;font-size:15.4px" fill="#000">75</text>
<text x="1065.64" y="415.1" text-anchor="middle" style="font-family:'DejaVu Sans','Liberation Sans',sans-serif;font-size:15.4px" fill="#000">90</text>
<text x="1094.80" y="415.1" text-anchor="middle" style="font-family:'DejaVu Sans','Liberation Sans',sans-serif;font-size:15.4px" fill="#000">100</text>
<text transform="translate(35.3,348.8) rotate(-90)" style="font-family:'Liberation Sans',Arial,Helvetica,sans-serif;font-size:21.33px" fill="#ff0000">Temperatura (°C)</text>
<text transform="translate(100.2,345.4) rotate(-90)" style="font-family:'Liberation Sans',Arial,Helvetica,sans-serif;font-size:21.33px" fill="#000">Padavine (mm/h)</text>
<text transform="translate(1145.4,348) rotate(-90)" style="font-family:'Liberation Sans',Arial,Helvetica,sans-serif;font-size:21.33px" fill="#000">Višina oblakov (km)</text>
<text x="9.5" y="21.5" style="font-family:'Liberation Sans',Arial,Helvetica,sans-serif;font-size:16px" fill="#0000ff">(kraj lahko izberete v meniju)</text>
<text x="399.5" y="37" style="font-family:'Liberation Sans',Arial,Helvetica,sans-serif;font-size:24px" fill="#0000ff">Zagreb 7 dni</text>
<text x="1143" y="21.5" text-anchor="end" style="font-family:'Liberation Sans',Arial,Helvetica,sans-serif;font-size:16px" fill="#0000ff">Zadnja posodobitev: 24.10.2025 - 16:09</text>
</svg>
</body></html>
